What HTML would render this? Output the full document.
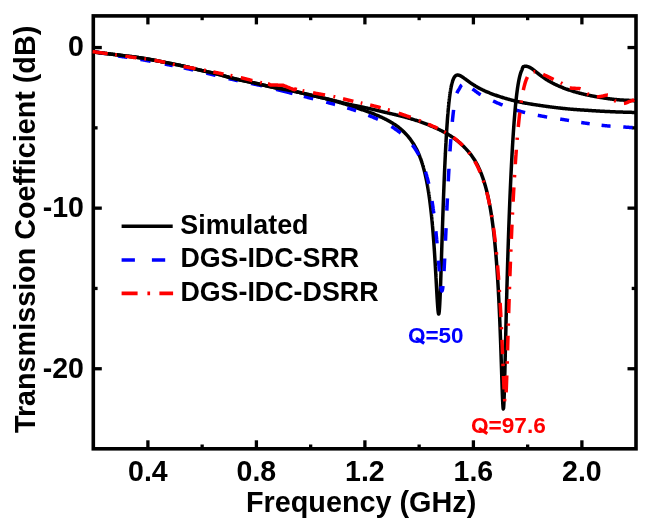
<!DOCTYPE html>
<html><head><meta charset="utf-8"><style>
html,body{margin:0;padding:0;background:#fff;}
svg{display:block;will-change:transform;}
text{font-family:"Liberation Sans",sans-serif;font-weight:bold;}
</style></head><body>
<svg width="653" height="528" viewBox="0 0 653 528">
<rect width="653" height="528" fill="#fff"/>
<g stroke="#000" stroke-width="3.3"><line x1="147.90" y1="448.8" x2="147.90" y2="440.3"/><line x1="147.90" y1="15.9" x2="147.90" y2="24.4"/><line x1="202.15" y1="448.8" x2="202.15" y2="444.5"/><line x1="202.15" y1="15.9" x2="202.15" y2="20.2"/><line x1="256.40" y1="448.8" x2="256.40" y2="440.3"/><line x1="256.40" y1="15.9" x2="256.40" y2="24.4"/><line x1="310.65" y1="448.8" x2="310.65" y2="444.5"/><line x1="310.65" y1="15.9" x2="310.65" y2="20.2"/><line x1="364.90" y1="448.8" x2="364.90" y2="440.3"/><line x1="364.90" y1="15.9" x2="364.90" y2="24.4"/><line x1="419.15" y1="448.8" x2="419.15" y2="444.5"/><line x1="419.15" y1="15.9" x2="419.15" y2="20.2"/><line x1="473.40" y1="448.8" x2="473.40" y2="440.3"/><line x1="473.40" y1="15.9" x2="473.40" y2="24.4"/><line x1="527.65" y1="448.8" x2="527.65" y2="444.5"/><line x1="527.65" y1="15.9" x2="527.65" y2="20.2"/><line x1="581.90" y1="448.8" x2="581.90" y2="440.3"/><line x1="581.90" y1="15.9" x2="581.90" y2="24.4"/><line x1="93.3" y1="368.75" x2="101.8" y2="368.75"/><line x1="636.0" y1="368.75" x2="627.5" y2="368.75"/><line x1="93.3" y1="288.45" x2="97.6" y2="288.45"/><line x1="636.0" y1="288.45" x2="631.7" y2="288.45"/><line x1="93.3" y1="208.15" x2="101.8" y2="208.15"/><line x1="636.0" y1="208.15" x2="627.5" y2="208.15"/><line x1="93.3" y1="127.85" x2="97.6" y2="127.85"/><line x1="636.0" y1="127.85" x2="631.7" y2="127.85"/><line x1="93.3" y1="47.55" x2="101.8" y2="47.55"/><line x1="636.0" y1="47.55" x2="627.5" y2="47.55"/></g>
<rect x="93.3" y="15.9" width="542.7" height="432.90000000000003" fill="none" stroke="#000" stroke-width="3.6"/>
<g fill="none" stroke-width="3.5" stroke-linejoin="round">
<path d="M92.60,51.86 L93.65,52.00 L94.33,52.08 L95.01,52.17 L95.68,52.25 L96.36,52.34 L97.04,52.42 L97.72,52.51 L98.40,52.59 L99.08,52.68 L99.75,52.76 L100.43,52.85 L101.11,52.93 L101.79,53.02 L102.47,53.11 L103.14,53.19 L103.82,53.28 L104.50,53.36 L105.18,53.45 L105.86,53.53 L106.53,53.61 L107.21,53.70 L107.89,53.78 L108.57,53.86 L109.25,53.95 L109.93,54.03 L110.60,54.11 L111.28,54.19 L111.96,54.28 L112.64,54.36 L113.32,54.44 L113.99,54.52 L114.67,54.60 L115.35,54.68 L116.03,54.77 L116.71,54.85 L117.38,54.94 L118.06,55.02 L118.74,55.10 L119.42,55.19 L120.10,55.28 L120.78,55.36 L121.45,55.45 L122.13,55.54 L122.81,55.62 L123.49,55.71 L124.17,55.79 L124.84,55.88 L125.52,55.96 L126.20,56.04 L126.88,56.12 L127.56,56.20 L128.23,56.28 L128.91,56.36 L129.59,56.44 L130.27,56.52 L130.95,56.60 L131.62,56.68 L132.30,56.76 L132.98,56.84 L133.66,56.93 L134.34,57.01 L135.02,57.10 L135.69,57.19 L136.37,57.28 L137.05,57.37 L137.73,57.46 L138.41,57.56 L139.08,57.66 L139.76,57.76 L140.44,57.86 L141.12,57.96 L141.80,58.07 L142.47,58.17 L143.15,58.28 L143.83,58.39 L144.51,58.50 L145.19,58.62 L145.87,58.73 L146.54,58.85 L147.22,58.96 L147.90,59.08 L148.58,59.20 L149.26,59.32 L149.93,59.44 L150.61,59.57 L151.29,59.69 L151.97,59.82 L152.65,59.94 L153.33,60.07 L154.00,60.20 L154.68,60.33 L155.36,60.46 L156.04,60.59 L156.72,60.73 L157.39,60.86 L158.07,60.99 L158.75,61.13 L159.43,61.27 L160.11,61.40 L160.78,61.54 L161.46,61.68 L162.14,61.81 L162.82,61.95 L163.50,62.09 L164.18,62.22 L164.85,62.36 L165.53,62.49 L166.21,62.63 L166.89,62.76 L167.57,62.90 L168.24,63.03 L168.92,63.16 L169.60,63.29 L170.28,63.42 L170.96,63.56 L171.63,63.69 L172.31,63.82 L172.99,63.95 L173.67,64.09 L174.35,64.22 L175.03,64.35 L175.70,64.49 L176.38,64.62 L177.06,64.76 L177.74,64.90 L178.42,65.03 L179.09,65.17 L179.77,65.31 L180.45,65.45 L181.13,65.60 L181.81,65.74 L182.48,65.88 L183.16,66.03 L183.84,66.18 L184.52,66.33 L185.20,66.48 L185.88,66.63 L186.55,66.79 L187.23,66.95 L187.91,67.11 L188.59,67.27 L189.27,67.44 L189.94,67.60 L190.62,67.77 L191.30,67.95 L191.98,68.12 L192.66,68.29 L193.33,68.47 L194.01,68.64 L194.69,68.81 L195.37,68.99 L196.05,69.16 L196.73,69.33 L197.40,69.49 L198.08,69.66 L198.76,69.82 L199.44,69.98 L200.12,70.14 L200.79,70.30 L201.47,70.45 L202.15,70.60 L202.83,70.76 L203.51,70.91 L204.18,71.06 L204.86,71.21 L205.54,71.36 L206.22,71.51 L206.90,71.66 L207.57,71.81 L208.25,71.95 L208.93,72.10 L209.61,72.25 L210.29,72.40 L210.97,72.56 L211.64,72.71 L212.32,72.86 L213.00,73.02 L213.68,73.17 L214.36,73.33 L215.03,73.49 L215.71,73.65 L216.39,73.82 L217.07,73.98 L217.75,74.15 L218.43,74.33 L219.10,74.50 L219.78,74.68 L220.46,74.86 L221.14,75.05 L221.82,75.24 L222.49,75.43 L223.17,75.62 L223.85,75.82 L224.53,76.01 L225.21,76.20 L225.88,76.40 L226.56,76.59 L227.24,76.78 L227.92,76.97 L228.60,77.16 L229.27,77.34 L229.95,77.53 L230.63,77.70 L231.31,77.88 L231.99,78.05 L232.67,78.22 L233.34,78.39 L234.02,78.56 L234.70,78.72 L235.38,78.88 L236.06,79.04 L236.73,79.20 L237.41,79.36 L238.09,79.51 L238.77,79.66 L239.45,79.82 L240.13,79.97 L240.80,80.12 L241.48,80.26 L242.16,80.41 L242.84,80.56 L243.52,80.70 L244.19,80.84 L244.87,80.98 L245.55,81.12 L246.23,81.26 L246.91,81.40 L247.58,81.54 L248.26,81.68 L248.94,81.82 L249.62,81.95 L250.30,82.09 L250.98,82.23 L251.65,82.37 L252.33,82.51 L253.01,82.66 L253.69,82.80 L254.37,82.95 L255.04,83.10 L255.72,83.25 L256.40,83.41 L257.08,83.56 L257.76,83.72 L258.43,83.88 L259.11,84.04 L259.79,84.20 L260.47,84.37 L261.15,84.53 L261.83,84.69 L262.50,84.86 L263.18,85.02 L263.86,85.18 L264.54,85.34 L265.22,85.50 L265.89,85.67 L266.57,85.82 L267.25,85.98 L267.93,86.14 L268.61,86.30 L269.28,86.45 L269.96,86.61 L270.64,86.76 L271.32,86.91 L272.00,87.06 L272.68,87.21 L273.35,87.35 L274.03,87.50 L274.71,87.64 L275.39,87.78 L276.07,87.91 L276.74,88.05 L277.42,88.18 L278.10,88.31 L278.78,88.43 L279.46,88.55 L280.13,88.67 L280.81,88.78 L281.49,88.90 L282.17,89.01 L282.85,89.12 L283.53,89.23 L284.20,89.34 L284.88,89.45 L285.56,89.57 L286.24,89.68 L286.92,89.80 L287.59,89.92 L288.27,90.05 L288.95,90.17 L289.63,90.30 L290.31,90.44 L290.98,90.58 L291.66,90.72 L292.34,90.86 L293.02,91.01 L293.70,91.16 L294.38,91.31 L295.05,91.46 L295.73,91.61 L296.41,91.77 L297.09,91.93 L297.77,92.09 L298.44,92.24 L299.12,92.40 L299.80,92.57 L300.48,92.73 L301.16,92.89 L301.83,93.05 L302.51,93.22 L303.19,93.38 L303.87,93.54 L304.55,93.71 L305.23,93.87 L305.90,94.03 L306.58,94.19 L307.26,94.36 L307.94,94.52 L308.62,94.68 L309.29,94.83 L309.97,94.99 L310.65,95.15 L311.33,95.30 L312.01,95.45 L312.68,95.60 L313.36,95.75 L314.04,95.90 L314.72,96.05 L315.40,96.20 L316.08,96.35 L316.75,96.50 L317.43,96.65 L318.11,96.80 L318.79,96.95 L319.47,97.11 L320.14,97.27 L320.82,97.42 L321.50,97.58 L322.18,97.75 L322.86,97.91 L323.53,98.08 L324.21,98.24 L324.89,98.41 L325.57,98.58 L326.25,98.76 L326.93,98.93 L327.60,99.11 L328.28,99.29 L328.96,99.46 L329.64,99.64 L330.32,99.83 L330.99,100.01 L331.67,100.20 L332.35,100.38 L333.03,100.57 L333.71,100.76 L334.38,100.95 L335.06,101.14 L335.74,101.33 L336.42,101.53 L337.10,101.72 L337.78,101.92 L338.45,102.12 L339.13,102.32 L339.81,102.52 L340.49,102.72 L341.17,102.92 L341.84,103.12 L342.52,103.33 L343.20,103.53 L343.88,103.74 L344.56,103.94 L345.23,104.15 L345.91,104.36 L346.59,104.57 L347.27,104.78 L347.95,104.99 L348.63,105.20 L349.30,105.41 L349.98,105.63 L350.66,105.84 L351.34,106.06 L352.02,106.28 L352.69,106.50 L353.37,106.72 L354.05,106.94 L354.73,107.17 L355.41,107.39 L356.08,107.62 L356.76,107.85 L357.44,108.08 L358.12,108.31 L358.80,108.54 L359.48,108.78 L360.15,109.01 L360.83,109.25 L361.51,109.49 L362.19,109.73 L362.87,109.96 L363.54,110.20 L364.22,110.45 L364.90,110.69 L365.58,110.93 L366.26,111.18 L366.93,111.42 L367.61,111.67 L368.29,111.92 L368.97,112.17 L369.65,112.43 L370.33,112.68 L371.00,112.94 L371.68,113.20 L372.36,113.46 L373.04,113.72 L373.72,113.99 L374.39,114.25 L375.07,114.53 L375.75,114.80 L376.43,115.08 L377.11,115.36 L377.78,115.65 L378.46,115.94 L379.14,116.23 L379.82,116.53 L380.50,116.83 L381.18,117.13 L381.85,117.44 L382.53,117.76 L383.21,118.08 L383.89,118.41 L384.57,118.74 L385.24,119.08 L385.92,119.42 L386.60,119.77 L387.28,120.12 L387.96,120.49 L388.63,120.85 L389.31,121.23 L389.99,121.62 L390.67,122.01 L391.35,122.41 L392.02,122.82 L392.70,123.23 L393.38,123.66 L394.06,124.10 L394.74,124.55 L395.42,125.01 L396.09,125.48 L396.77,125.96 L397.45,126.46 L398.13,126.97 L398.81,127.50 L399.48,128.03 L400.16,128.59 L400.84,129.16 L401.52,129.75 L402.20,130.35 L402.88,130.97 L403.55,131.62 L404.23,132.28 L404.91,132.96 L405.59,133.67 L406.27,134.39 L406.94,135.14 L407.62,135.92 L408.30,136.72 L408.98,137.55 L409.66,138.40 L410.33,139.29 L411.01,140.21 L411.69,141.16 L412.37,142.15 L413.05,143.18 L413.73,144.25 L414.40,145.36 L415.08,146.53 L415.76,147.74 L416.44,149.01 L417.12,150.37 L417.39,150.94 L417.52,151.21 L417.65,151.50 L417.78,151.78 L417.91,152.07 L418.04,152.36 L418.17,152.65 L418.30,152.95 L418.43,153.25 L418.57,153.55 L418.70,153.85 L418.83,154.16 L418.96,154.47 L419.09,154.79 L419.22,155.11 L419.35,155.43 L419.46,155.71 L419.58,155.99 L419.69,156.27 L419.80,156.56 L419.91,156.85 L420.03,157.14 L420.14,157.44 L420.25,157.74 L420.36,158.04 L420.48,158.34 L420.59,158.65 L420.70,158.96 L420.81,159.27 L420.93,159.59 L421.04,159.91 L421.15,160.23 L421.26,160.56 L421.37,160.88 L421.49,161.22 L421.60,161.55 L421.71,161.89 L421.81,162.18 L421.90,162.47 L421.99,162.76 L422.09,163.05 L422.18,163.35 L422.27,163.64 L422.37,163.95 L422.46,164.25 L422.55,164.56 L422.65,164.86 L422.74,165.18 L422.84,165.49 L422.93,165.81 L423.02,166.13 L423.12,166.45 L423.21,166.78 L423.30,167.11 L423.40,167.44 L423.49,167.78 L423.58,168.12 L423.68,168.46 L423.77,168.81 L423.87,169.15 L423.96,169.51 L424.05,169.86 L424.15,170.22 L424.24,170.58 L424.32,170.88 L424.39,171.17 L424.47,171.47 L424.54,171.77 L424.61,172.07 L424.69,172.37 L424.76,172.68 L424.84,172.99 L424.91,173.30 L424.99,173.62 L425.06,173.93 L425.14,174.25 L425.21,174.57 L425.29,174.90 L425.36,175.23 L425.44,175.56 L425.51,175.89 L425.59,176.23 L425.66,176.56 L425.74,176.90 L425.81,177.25 L425.89,177.60 L425.96,177.95 L426.04,178.30 L426.11,178.66 L426.19,179.01 L426.26,179.38 L426.34,179.74 L426.41,180.11 L426.49,180.48 L426.56,180.86 L426.64,181.24 L426.71,181.62 L426.79,182.00 L426.86,182.39 L426.94,182.78 L426.99,183.08 L427.05,183.38 L427.11,183.68 L427.16,183.98 L427.22,184.28 L427.27,184.59 L427.33,184.90 L427.39,185.21 L427.44,185.52 L427.50,185.84 L427.56,186.16 L427.61,186.47 L427.67,186.80 L427.72,187.12 L427.78,187.45 L427.84,187.77 L427.89,188.11 L427.95,188.44 L428.00,188.77 L428.06,189.11 L428.12,189.45 L428.17,189.79 L428.23,190.14 L428.29,190.49 L428.34,190.84 L428.40,191.19 L428.45,191.55 L428.51,191.90 L428.57,192.26 L428.62,192.63 L428.68,192.99 L428.74,193.36 L428.79,193.73 L428.85,194.11 L428.90,194.48 L428.96,194.86 L429.02,195.25 L429.07,195.63 L429.13,196.02 L429.18,196.41 L429.24,196.80 L429.30,197.20 L429.35,197.60 L429.41,198.00 L429.47,198.41 L429.52,198.82 L429.58,199.23 L429.63,199.65 L429.69,200.07 L429.75,200.49 L429.80,200.92 L429.86,201.34 L429.92,201.78 L429.97,202.21 L430.03,202.65 L430.08,203.09 L430.14,203.54 L430.18,203.84 L430.21,204.14 L430.25,204.44 L430.29,204.75 L430.33,205.05 L430.36,205.36 L430.40,205.67 L430.44,205.98 L430.48,206.29 L430.51,206.61 L430.55,206.92 L430.59,207.24 L430.63,207.56 L430.66,207.88 L430.70,208.20 L430.74,208.53 L430.78,208.85 L430.81,209.18 L430.85,209.51 L430.89,209.84 L430.93,210.17 L430.96,210.51 L431.00,210.85 L431.04,211.19 L431.08,211.53 L431.11,211.87 L431.15,212.21 L431.19,212.56 L431.23,212.91 L431.26,213.26 L431.30,213.61 L431.34,213.96 L431.38,214.32 L431.41,214.68 L431.45,215.04 L431.49,215.40 L431.53,215.77 L431.56,216.13 L431.60,216.50 L431.64,216.87 L431.68,217.24 L431.71,217.62 L431.75,218.00 L431.79,218.37 L431.83,218.76 L431.86,219.14 L431.90,219.52 L431.94,219.91 L431.98,220.30 L432.01,220.69 L432.05,221.09 L432.09,221.49 L432.13,221.88 L432.16,222.29 L432.20,222.69 L432.24,223.09 L432.27,223.50 L432.31,223.91 L432.35,224.33 L432.39,224.74 L432.42,225.16 L432.46,225.58 L432.50,226.00 L432.54,226.43 L432.57,226.85 L432.61,227.28 L432.65,227.72 L432.69,228.15 L432.72,228.59 L432.76,229.03 L432.80,229.47 L432.84,229.92 L432.87,230.37 L432.91,230.82 L432.95,231.27 L432.99,231.73 L433.02,232.18 L433.06,232.64 L433.10,233.11 L433.14,233.57 L433.17,234.04 L433.21,234.52 L433.25,234.99 L433.29,235.47 L433.32,235.95 L433.36,236.43 L433.39,236.81 L433.42,237.16 L433.45,237.65 L433.49,238.14 L433.53,238.64 L433.57,239.14 L433.60,239.64 L433.64,240.14 L433.68,240.65 L433.72,241.16 L433.75,241.67 L433.79,242.19 L433.83,242.71 L433.87,243.23 L433.90,243.76 L433.94,244.28 L433.98,244.82 L434.02,245.35 L434.05,245.89 L434.09,246.43 L434.13,246.97 L434.17,247.52 L434.20,248.06 L434.24,248.62 L434.28,249.17 L434.32,249.73 L434.35,250.29 L434.39,250.86 L434.43,251.42 L434.47,251.99 L434.50,252.57 L434.54,253.14 L434.58,253.72 L434.62,254.31 L434.65,254.89 L434.69,255.48 L434.73,256.07 L434.77,256.67 L434.80,257.26 L434.82,257.56 L434.84,257.86 L434.86,258.17 L434.88,258.47 L434.90,258.77 L434.92,259.08 L434.93,259.38 L434.95,259.68 L434.97,259.99 L434.99,260.30 L435.01,260.60 L435.03,260.91 L435.05,261.22 L435.07,261.53 L435.08,261.84 L435.10,262.15 L435.12,262.46 L435.14,262.78 L435.16,263.09 L435.18,263.40 L435.20,263.72 L435.22,264.03 L435.23,264.35 L435.25,264.66 L435.27,264.98 L435.29,265.30 L435.31,265.62 L435.33,265.94 L435.35,266.26 L435.37,266.58 L435.38,266.90 L435.40,267.22 L435.42,267.54 L435.44,267.87 L435.46,268.19 L435.48,268.51 L435.50,268.84 L435.52,269.16 L435.53,269.49 L435.55,269.82 L435.57,270.14 L435.59,270.47 L435.61,270.80 L435.63,271.13 L435.65,271.46 L435.66,271.79 L435.68,272.12 L435.70,272.45 L435.72,272.78 L435.74,273.11 L435.76,273.44 L435.78,273.78 L435.80,274.11 L435.81,274.44 L435.83,274.78 L435.85,275.11 L435.87,275.45 L435.89,275.78 L435.91,276.12 L435.93,276.46 L435.95,276.79 L435.96,277.13 L435.98,277.47 L436.00,277.80 L436.02,278.14 L436.04,278.48 L436.06,278.82 L436.08,279.16 L436.10,279.50 L436.11,279.84 L436.13,280.18 L436.15,280.52 L436.17,280.86 L436.19,281.20 L436.21,281.54 L436.23,281.88 L436.25,282.22 L436.26,282.56 L436.28,282.90 L436.30,283.24 L436.32,283.58 L436.34,283.92 L436.36,284.26 L436.38,284.60 L436.40,284.94 L436.41,285.28 L436.43,285.62 L436.45,285.96 L436.47,286.30 L436.49,286.64 L436.51,286.98 L436.53,287.32 L436.55,287.66 L436.56,288.00 L436.58,288.34 L436.60,288.68 L436.62,289.02 L436.64,289.36 L436.66,289.69 L436.68,290.03 L436.69,290.37 L436.71,290.70 L436.73,291.04 L436.75,291.37 L436.77,291.71 L436.79,292.04 L436.81,292.37 L436.83,292.70 L436.84,293.04 L436.86,293.37 L436.88,293.70 L436.90,294.02 L436.92,294.35 L436.94,294.68 L436.96,295.01 L436.98,295.33 L436.99,295.66 L437.01,295.98 L437.03,296.30 L437.05,296.62 L437.07,296.94 L437.09,297.26 L437.11,297.58 L437.13,297.89 L437.14,298.21 L437.16,298.52 L437.18,298.83 L437.20,299.14 L437.22,299.45 L437.24,299.75 L437.26,300.06 L437.28,300.36 L437.29,300.66 L437.31,300.96 L437.35,301.56 L437.39,302.14 L437.43,302.72 L437.46,303.24 L437.48,303.57 L437.52,304.12 L437.56,304.67 L437.59,305.20 L437.63,305.73 L437.67,306.24 L437.71,306.74 L437.74,307.23 L437.78,307.70 L437.82,308.17 L437.86,308.62 L437.89,309.05 L437.93,309.47 L437.97,309.87 L438.01,310.26 L438.04,310.63 L438.08,310.99 L438.12,311.33 L438.16,311.65 L438.19,311.95 L438.25,312.37 L438.31,312.74 L438.36,313.07 L438.44,313.43 L438.53,313.76 L438.70,314.02 L438.87,313.74 L438.96,313.38 L439.04,312.98 L439.09,312.61 L439.15,312.18 L439.19,311.86 L439.22,311.52 L439.26,311.15 L439.30,310.76 L439.34,310.34 L439.37,309.90 L439.41,309.43 L439.45,308.94 L439.49,308.42 L439.52,307.88 L439.56,307.32 L439.60,306.73 L439.62,306.43 L439.64,306.12 L439.65,305.80 L439.67,305.48 L439.69,305.16 L439.71,304.83 L439.73,304.49 L439.75,304.15 L439.77,303.80 L439.79,303.45 L439.80,303.09 L439.82,302.73 L439.84,302.37 L439.86,301.99 L439.88,301.61 L439.90,301.23 L439.92,300.85 L439.93,300.45 L439.95,300.06 L439.97,299.65 L439.99,299.25 L440.01,298.84 L440.03,298.42 L440.05,298.00 L440.07,297.58 L440.08,297.15 L440.10,296.72 L440.12,296.28 L440.14,295.84 L440.16,295.39 L440.18,294.94 L440.20,294.49 L440.22,294.03 L440.23,293.57 L440.25,293.11 L440.27,292.64 L440.29,292.17 L440.31,291.70 L440.33,291.22 L440.35,290.73 L440.37,290.25 L440.38,289.76 L440.40,289.27 L440.42,288.77 L440.44,288.28 L440.46,287.78 L440.48,287.27 L440.50,286.76 L440.52,286.25 L440.53,285.74 L440.55,285.23 L440.57,284.71 L440.59,284.19 L440.61,283.67 L440.63,283.14 L440.65,282.61 L440.67,282.08 L440.68,281.55 L440.70,281.02 L440.72,280.48 L440.74,279.94 L440.76,279.40 L440.78,278.86 L440.80,278.31 L440.82,277.77 L440.83,277.22 L440.85,276.75 L440.87,276.12 L440.89,275.57 L440.91,275.01 L440.93,274.45 L440.95,273.90 L440.97,273.34 L440.98,272.78 L441.00,272.21 L441.02,271.65 L441.04,271.09 L441.06,270.52 L441.08,269.95 L441.10,269.39 L441.11,268.82 L441.13,268.25 L441.15,267.67 L441.17,267.10 L441.19,266.53 L441.21,265.96 L441.23,265.38 L441.25,264.81 L441.26,264.23 L441.28,263.65 L441.30,263.08 L441.32,262.50 L441.34,261.92 L441.36,261.34 L441.38,260.76 L441.40,260.18 L441.41,259.60 L441.43,259.02 L441.45,258.44 L441.47,257.86 L441.49,257.28 L441.51,256.70 L441.53,256.11 L441.55,255.53 L441.56,254.95 L441.58,254.37 L441.60,253.78 L441.62,253.20 L441.64,252.62 L441.66,252.04 L441.68,251.45 L441.70,250.87 L441.71,250.29 L441.73,249.71 L441.75,249.12 L441.77,248.54 L441.79,247.96 L441.81,247.38 L441.83,246.80 L441.85,246.22 L441.86,245.64 L441.88,245.06 L441.90,244.48 L441.92,243.90 L441.94,243.32 L441.96,242.74 L441.98,242.16 L442.00,241.58 L442.01,241.00 L442.03,240.43 L442.05,239.85 L442.07,239.27 L442.09,238.70 L442.11,238.12 L442.13,237.55 L442.14,236.98 L442.16,236.40 L442.18,235.83 L442.20,235.26 L442.22,234.69 L442.24,234.12 L442.26,233.55 L442.28,232.98 L442.29,232.41 L442.31,231.84 L442.33,231.27 L442.35,230.71 L442.37,230.14 L442.39,229.58 L442.41,229.01 L442.43,228.45 L442.44,227.89 L442.46,227.33 L442.48,226.77 L442.50,226.21 L442.52,225.65 L442.54,225.09 L442.56,224.54 L442.58,223.98 L442.59,223.42 L442.61,222.87 L442.63,222.32 L442.65,221.76 L442.67,221.21 L442.69,220.66 L442.71,220.11 L442.73,219.57 L442.74,219.02 L442.76,218.47 L442.78,217.93 L442.80,217.38 L442.82,216.84 L442.84,216.30 L442.86,215.75 L442.88,215.21 L442.89,214.68 L442.91,214.14 L442.93,213.60 L442.95,213.06 L442.97,212.53 L442.99,212.00 L443.01,211.46 L443.03,210.93 L443.04,210.40 L443.06,209.87 L443.08,209.34 L443.10,208.82 L443.12,208.29 L443.14,207.77 L443.16,207.24 L443.18,206.72 L443.19,206.20 L443.21,205.68 L443.23,205.16 L443.25,204.64 L443.27,204.12 L443.29,203.61 L443.31,203.09 L443.32,202.58 L443.34,202.07 L443.36,201.56 L443.38,201.05 L443.40,200.54 L443.42,200.03 L443.44,199.53 L443.46,199.02 L443.47,198.52 L443.49,198.02 L443.51,197.51 L443.53,197.01 L443.55,196.52 L443.56,196.17 L443.59,195.52 L443.61,195.03 L443.62,194.53 L443.64,194.04 L443.66,193.55 L443.68,193.06 L443.70,192.57 L443.72,192.08 L443.74,191.59 L443.76,191.11 L443.77,190.63 L443.79,190.14 L443.81,189.66 L443.83,189.18 L443.85,188.70 L443.87,188.22 L443.89,187.75 L443.91,187.27 L443.92,186.80 L443.94,186.32 L443.96,185.85 L443.98,185.38 L444.00,184.91 L444.02,184.45 L444.04,183.98 L444.06,183.51 L444.07,183.05 L444.09,182.59 L444.11,182.12 L444.13,181.66 L444.15,181.21 L444.17,180.75 L444.19,180.29 L444.21,179.84 L444.22,179.38 L444.24,178.98 L444.26,178.48 L444.28,178.03 L444.30,177.58 L444.32,177.13 L444.34,176.68 L444.35,176.24 L444.37,175.79 L444.39,175.35 L444.41,174.91 L444.43,174.47 L444.45,174.03 L444.47,173.59 L444.49,173.16 L444.50,172.72 L444.52,172.29 L444.54,171.86 L444.56,171.43 L444.58,171.00 L444.60,170.57 L444.62,170.14 L444.64,169.71 L444.65,169.29 L444.67,168.86 L444.69,168.44 L444.71,168.02 L444.73,167.60 L444.75,167.18 L444.77,166.76 L444.79,166.35 L444.80,165.93 L444.82,165.52 L444.84,165.11 L444.86,164.70 L444.88,164.29 L444.90,163.88 L444.92,163.47 L444.94,163.06 L444.95,162.66 L444.97,162.26 L444.99,161.85 L445.01,161.45 L445.03,161.05 L445.05,160.65 L445.07,160.26 L445.09,159.86 L445.10,159.47 L445.12,159.07 L445.14,158.68 L445.16,158.29 L445.18,157.90 L445.20,157.51 L445.22,157.12 L445.24,156.74 L445.25,156.35 L445.27,155.97 L445.29,155.58 L445.31,155.20 L445.33,154.82 L445.35,154.44 L445.37,154.07 L445.39,153.69 L445.40,153.32 L445.42,152.94 L445.44,152.57 L445.46,152.20 L445.48,151.83 L445.50,151.46 L445.52,151.09 L445.53,150.72 L445.55,150.36 L445.57,149.99 L445.59,149.63 L445.61,149.27 L445.63,148.91 L445.65,148.55 L445.67,148.19 L445.68,147.83 L445.70,147.48 L445.72,147.12 L445.74,146.77 L445.76,146.42 L445.78,146.07 L445.80,145.72 L445.82,145.37 L445.83,145.02 L445.85,144.68 L445.87,144.33 L445.89,143.99 L445.91,143.65 L445.93,143.30 L445.95,142.96 L445.97,142.63 L445.98,142.29 L446.00,141.95 L446.02,141.62 L446.04,141.28 L446.06,140.95 L446.08,140.62 L446.10,140.29 L446.12,139.96 L446.13,139.63 L446.15,139.30 L446.17,138.97 L446.19,138.65 L446.21,138.33 L446.23,138.00 L446.25,137.68 L446.27,137.36 L446.28,137.04 L446.30,136.72 L446.32,136.41 L446.34,136.09 L446.36,135.78 L446.38,135.46 L446.40,135.15 L446.42,134.84 L446.43,134.53 L446.45,134.22 L446.47,133.92 L446.49,133.61 L446.51,133.30 L446.53,133.00 L446.55,132.70 L446.56,132.39 L446.58,132.09 L446.60,131.79 L446.64,131.20 L446.68,130.61 L446.71,130.02 L446.75,129.44 L446.79,128.86 L446.83,128.28 L446.86,127.72 L446.90,127.15 L446.94,126.59 L446.98,126.03 L447.01,125.48 L447.05,124.93 L447.09,124.39 L447.13,123.85 L447.16,123.32 L447.20,122.79 L447.24,122.26 L447.28,121.74 L447.31,121.22 L447.35,120.71 L447.39,120.20 L447.43,119.69 L447.46,119.19 L447.50,118.69 L447.54,118.20 L447.58,117.71 L447.61,117.23 L447.65,116.75 L447.69,116.27 L447.73,115.80 L447.76,115.33 L447.80,114.86 L447.84,114.40 L447.88,113.95 L447.91,113.49 L447.95,113.05 L447.99,112.60 L448.03,112.16 L448.06,111.72 L448.10,111.29 L448.14,110.86 L448.18,110.43 L448.21,110.01 L448.25,109.59 L448.29,109.18 L448.33,108.76 L448.36,108.36 L448.40,107.95 L448.44,107.55 L448.48,107.16 L448.51,106.76 L448.55,106.37 L448.59,105.99 L448.63,105.61 L448.66,105.23 L448.70,104.85 L448.74,104.48 L448.77,104.11 L448.81,103.75 L448.85,103.39 L448.89,103.03 L448.92,102.67 L448.96,102.32 L449.00,101.97 L449.04,101.63 L449.07,101.29 L449.11,100.95 L449.15,100.62 L449.19,100.28 L449.22,99.96 L449.26,99.63 L449.30,99.31 L449.34,98.99 L449.37,98.67 L449.41,98.36 L449.45,98.05 L449.49,97.75 L449.52,97.44 L449.56,97.14 L449.62,96.70 L449.67,96.32 L449.71,95.97 L449.77,95.55 L449.82,95.13 L449.88,94.71 L449.94,94.30 L449.99,93.90 L450.05,93.51 L450.10,93.12 L450.16,92.74 L450.22,92.36 L450.27,91.99 L450.33,91.63 L450.39,91.27 L450.44,90.92 L450.50,90.57 L450.55,90.23 L450.61,89.89 L450.67,89.56 L450.72,89.24 L450.78,88.92 L450.84,88.60 L450.89,88.30 L450.95,87.99 L451.00,87.69 L451.08,87.30 L451.15,86.92 L451.23,86.55 L451.30,86.19 L451.38,85.83 L451.45,85.49 L451.53,85.15 L451.60,84.82 L451.68,84.50 L451.75,84.18 L451.83,83.88 L451.90,83.58 L451.98,83.29 L452.07,82.93 L452.16,82.59 L452.26,82.26 L452.35,81.93 L452.45,81.62 L452.54,81.32 L452.63,81.03 L452.75,80.69 L452.86,80.37 L452.97,80.06 L453.08,79.76 L453.19,79.48 L453.33,79.16 L453.46,78.86 L453.59,78.57 L453.72,78.30 L453.87,78.00 L454.02,77.72 L454.17,77.46 L454.34,77.19 L454.51,76.93 L454.69,76.68 L454.88,76.44 L455.09,76.21 L455.31,75.99 L455.55,75.78 L455.80,75.60 L456.06,75.44 L456.34,75.30 L456.62,75.19 L456.92,75.11 L457.22,75.06 L457.52,75.03 L457.84,75.04 L458.14,75.06 L458.44,75.11 L458.74,75.18 L459.04,75.26 L459.34,75.36 L459.62,75.47 L459.90,75.58 L460.18,75.71 L460.46,75.85 L460.74,76.00 L461.02,76.15 L461.29,76.30 L461.55,76.46 L461.81,76.62 L462.07,76.78 L462.33,76.95 L462.60,77.12 L462.86,77.30 L463.12,77.48 L463.38,77.66 L463.65,77.85 L463.91,78.03 L464.15,78.21 L464.39,78.38 L464.64,78.56 L464.88,78.74 L465.13,78.91 L465.37,79.09 L465.61,79.27 L465.86,79.45 L466.10,79.63 L466.34,79.81 L466.59,79.99 L466.83,80.17 L467.07,80.35 L467.32,80.53 L467.56,80.71 L467.80,80.89 L468.05,81.07 L468.29,81.24 L468.53,81.42 L468.78,81.60 L469.04,81.78 L469.30,81.97 L469.56,82.16 L469.83,82.34 L470.09,82.53 L470.35,82.71 L470.61,82.90 L470.87,83.08 L471.14,83.26 L471.40,83.44 L471.66,83.61 L471.92,83.79 L472.19,83.97 L472.45,84.14 L472.71,84.31 L472.97,84.48 L473.23,84.65 L473.50,84.82 L474.08,85.19 L474.76,85.61 L475.43,86.03 L476.11,86.43 L476.79,86.83 L477.47,87.22 L478.15,87.60 L478.82,87.97 L479.50,88.33 L480.18,88.69 L480.86,89.04 L481.54,89.38 L482.22,89.71 L482.89,90.04 L483.57,90.36 L484.25,90.68 L484.93,90.98 L485.61,91.29 L486.28,91.59 L486.96,91.88 L487.64,92.17 L488.32,92.45 L489.00,92.73 L489.67,93.00 L490.35,93.27 L491.03,93.53 L491.71,93.79 L492.39,94.05 L493.07,94.30 L493.74,94.55 L494.42,94.79 L495.10,95.04 L495.78,95.27 L496.46,95.51 L497.13,95.74 L497.81,95.97 L498.49,96.20 L499.17,96.42 L499.85,96.64 L500.52,96.86 L501.20,97.08 L501.88,97.29 L502.56,97.50 L503.24,97.71 L503.92,97.92 L504.59,98.12 L505.27,98.32 L505.95,98.52 L506.63,98.72 L507.31,98.92 L507.98,99.11 L508.66,99.30 L509.34,99.49 L510.02,99.67 L510.70,99.86 L511.38,100.04 L512.05,100.21 L512.73,100.39 L513.41,100.56 L514.09,100.73 L514.77,100.89 L515.44,101.06 L516.12,101.22 L516.80,101.37 L517.48,101.53 L518.16,101.68 L518.83,101.83 L519.51,101.97 L520.19,102.11 L520.87,102.25 L521.55,102.39 L522.23,102.53 L522.90,102.66 L523.58,102.79 L524.26,102.91 L524.94,103.04 L525.62,103.16 L526.29,103.28 L526.97,103.40 L527.65,103.52 L528.33,103.63 L529.01,103.75 L529.68,103.86 L530.36,103.97 L531.04,104.08 L531.72,104.19 L532.40,104.30 L533.08,104.41 L533.75,104.51 L534.43,104.62 L535.11,104.73 L535.79,104.83 L536.47,104.93 L537.14,105.04 L537.82,105.14 L538.50,105.24 L539.18,105.34 L539.86,105.44 L540.53,105.54 L541.21,105.64 L541.89,105.73 L542.57,105.83 L543.25,105.93 L543.93,106.02 L544.60,106.12 L545.28,106.21 L545.96,106.31 L546.64,106.40 L547.32,106.49 L547.99,106.59 L548.67,106.68 L549.35,106.77 L550.03,106.86 L550.71,106.95 L551.38,107.03 L552.06,107.12 L552.74,107.21 L553.42,107.29 L554.10,107.38 L554.77,107.46 L555.45,107.54 L556.13,107.63 L556.81,107.71 L557.49,107.79 L558.17,107.87 L558.84,107.94 L559.52,108.02 L560.20,108.10 L560.88,108.17 L561.56,108.25 L562.23,108.32 L562.91,108.39 L563.59,108.46 L564.27,108.53 L564.95,108.60 L565.62,108.67 L566.30,108.74 L566.98,108.81 L567.66,108.87 L568.34,108.93 L569.02,109.00 L569.69,109.06 L570.37,109.12 L571.05,109.18 L571.73,109.24 L572.41,109.30 L573.08,109.35 L573.76,109.41 L574.44,109.46 L575.12,109.51 L575.80,109.56 L576.48,109.61 L577.15,109.66 L577.83,109.70 L578.51,109.75 L579.19,109.79 L579.87,109.84 L580.54,109.88 L581.22,109.93 L581.90,109.97 L582.58,110.01 L583.26,110.06 L583.93,110.10 L584.61,110.14 L585.29,110.19 L585.97,110.23 L586.65,110.28 L587.33,110.32 L588.00,110.37 L588.68,110.41 L589.36,110.46 L590.04,110.50 L590.72,110.55 L591.39,110.59 L592.07,110.64 L592.75,110.68 L593.43,110.72 L594.11,110.77 L594.78,110.81 L595.46,110.85 L596.14,110.89 L596.82,110.93 L597.50,110.97 L598.18,111.01 L598.85,111.05 L599.53,111.09 L600.21,111.13 L600.89,111.17 L601.57,111.20 L602.24,111.24 L602.92,111.28 L603.60,111.31 L604.28,111.35 L604.96,111.38 L605.63,111.42 L606.31,111.45 L606.99,111.49 L607.67,111.52 L608.35,111.55 L609.02,111.59 L609.70,111.62 L610.38,111.65 L611.06,111.68 L611.74,111.71 L612.42,111.74 L613.09,111.77 L613.77,111.80 L614.45,111.83 L615.13,111.86 L615.81,111.88 L616.48,111.91 L617.16,111.93 L617.84,111.96 L618.52,111.98 L619.20,112.01 L619.88,112.03 L620.55,112.05 L621.23,112.07 L621.91,112.10 L622.59,112.12 L623.27,112.14 L623.94,112.16 L624.62,112.18 L625.30,112.20 L625.98,112.22 L626.66,112.24 L627.33,112.26 L628.01,112.27 L628.69,112.29 L629.37,112.31 L630.05,112.33 L630.73,112.35 L631.40,112.37 L632.08,112.38 L632.76,112.40 L633.44,112.42 L634.12,112.44 L634.79,112.46 L635.47,112.47 L636.15,112.49" stroke="#000"/>
<path d="M95.85,51.90 L96.36,51.99 L96.87,52.08 L97.38,52.18 L97.89,52.27 L98.40,52.37 L98.91,52.47 L99.41,52.57 L99.92,52.67 L100.43,52.77 L100.94,52.87 L101.45,52.97 L101.96,53.07 L102.47,53.17 L102.97,53.27 L103.48,53.37 L103.99,53.47 L104.50,53.57 L105.01,53.67 M118.06,55.93 L118.57,56.01 L119.08,56.09 L119.59,56.17 L120.10,56.25 L120.61,56.33 L121.11,56.41 L121.62,56.49 L122.13,56.57 L122.64,56.65 L123.15,56.73 L123.66,56.81 L124.17,56.88 L124.67,56.96 L125.18,57.04 L125.69,57.12 L126.20,57.20 L126.71,57.27 L127.22,57.35 L127.39,57.38 M140.44,59.42 L140.95,59.51 L141.46,59.60 L141.97,59.69 L142.47,59.78 L142.98,59.87 L143.49,59.96 L144.00,60.05 L144.51,60.14 L145.02,60.23 L145.53,60.32 L146.04,60.41 L146.54,60.51 L147.05,60.60 L147.56,60.69 L148.07,60.79 L148.58,60.88 L149.09,60.98 L149.60,61.07 L150.10,61.17 L150.61,61.26 M164.85,64.06 L165.36,64.16 L165.87,64.26 L166.38,64.36 L166.89,64.46 L167.40,64.56 L167.90,64.66 L168.41,64.76 L168.92,64.86 L169.43,64.96 L169.94,65.06 L170.45,65.17 L170.96,65.27 L171.46,65.37 L171.97,65.47 L172.48,65.57 L172.82,65.64 M183.84,67.90 L184.35,68.01 L184.86,68.12 L185.37,68.23 L185.88,68.34 L186.38,68.45 L186.89,68.57 L187.40,68.68 L187.91,68.79 L188.42,68.90 L188.93,69.02 L189.44,69.13 L189.94,69.25 L190.45,69.36 L190.96,69.48 L191.47,69.59 L191.98,69.71 L192.49,69.83 L193.00,69.95 L193.16,69.99 M206.39,73.14 L206.90,73.26 L207.41,73.38 L207.91,73.51 L208.42,73.63 L208.93,73.76 L209.44,73.88 L209.95,74.01 L210.46,74.14 L210.97,74.26 L211.47,74.39 L211.98,74.52 L212.49,74.65 L213.00,74.78 L213.51,74.91 L214.02,75.04 L214.53,75.16 L215.03,75.29 L215.54,75.42 M228.60,78.59 L229.11,78.71 L229.61,78.82 L230.12,78.94 L230.63,79.06 L231.14,79.17 L231.65,79.29 L232.16,79.41 L232.67,79.52 L233.17,79.64 L233.68,79.75 L234.19,79.87 L234.70,79.98 L235.21,80.09 L235.72,80.21 L236.23,80.32 L236.73,80.44 L237.24,80.55 L237.75,80.66 L237.92,80.70 M250.98,83.44 L251.48,83.55 L251.99,83.65 L252.50,83.75 L253.01,83.85 L253.52,83.96 L254.03,84.06 L254.54,84.16 L255.04,84.27 L255.55,84.38 L256.06,84.48 L256.57,84.59 L257.08,84.70 L257.59,84.82 L258.10,84.93 L258.60,85.04 L259.11,85.16 L259.62,85.28 L260.13,85.40 L260.64,85.52 L261.15,85.64 L261.66,85.76 L261.99,85.84 M276.07,89.39 L276.57,89.52 L277.08,89.64 L277.59,89.77 L278.10,89.90 L278.61,90.02 L279.12,90.15 L279.63,90.28 L280.13,90.40 L280.64,90.53 L281.15,90.66 L281.66,90.78 L282.17,90.91 L282.68,91.03 L283.19,91.16 L283.69,91.29 L284.20,91.41 L284.71,91.54 L285.22,91.66 L285.73,91.79 L286.24,91.92 L286.75,92.04 L287.25,92.17 L287.76,92.29 L288.27,92.42 L288.78,92.55 L289.29,92.67 L289.80,92.80 L290.31,92.93 L290.81,93.05 L291.32,93.18 L291.83,93.31 L292.34,93.44 L292.51,93.48 M303.87,96.38 L304.38,96.52 L304.89,96.65 L305.39,96.78 L305.90,96.91 L306.41,97.04 L306.92,97.18 L307.43,97.31 L307.94,97.44 L308.45,97.57 L308.95,97.70 L309.46,97.83 L309.97,97.97 L310.48,98.10 L310.99,98.23 L311.50,98.36 L312.01,98.49 L312.51,98.62 L313.02,98.75 L313.19,98.79 M326.25,102.12 L326.76,102.26 L327.26,102.39 L327.77,102.53 L328.28,102.66 L328.79,102.80 L329.30,102.93 L329.81,103.07 L330.32,103.21 L330.82,103.35 L331.33,103.48 L331.84,103.62 L332.35,103.76 L332.86,103.90 L333.37,104.04 L333.88,104.18 L334.38,104.32 L334.89,104.46 L335.06,104.50 M347.27,107.93 L347.78,108.08 L348.29,108.24 L348.79,108.39 L349.30,108.54 L349.81,108.70 L350.32,108.86 L350.83,109.02 L351.34,109.18 L351.85,109.34 L352.35,109.50 L352.86,109.67 L353.37,109.83 L353.88,110.00 L354.39,110.17 L354.90,110.34 L355.41,110.51 L355.91,110.69 L356.08,110.74 M368.29,115.30 L368.80,115.50 L369.31,115.71 L369.82,115.91 L370.33,116.12 L370.83,116.33 L371.34,116.54 L371.85,116.75 L372.36,116.96 L372.87,117.17 L373.38,117.39 L373.89,117.61 L374.39,117.82 L374.90,118.04 L375.41,118.27 L375.92,118.49 L376.43,118.72 L376.94,118.94 L377.45,119.17 L377.95,119.41 M391.35,126.49 L391.86,126.81 L392.36,127.13 L392.70,127.34 L393.11,127.60 L393.52,127.87 L393.92,128.13 L394.33,128.40 L394.74,128.67 L395.14,128.95 L395.55,129.23 L395.96,129.51 L396.37,129.80 L396.77,130.09 L397.18,130.38 L397.59,130.68 L397.99,130.98 L398.40,131.28 L398.81,131.59 L399.21,131.90 L399.62,132.22 L400.03,132.54 L400.43,132.87 L400.71,133.09 M412.37,145.01 L412.71,145.46 L413.05,145.91 L413.39,146.37 L413.73,146.83 L414.06,147.31 L414.40,147.79 L414.63,148.12 L414.86,148.45 L415.08,148.78 L415.31,149.12 L415.53,149.47 L415.76,149.81 L415.99,150.17 L416.21,150.53 L416.44,150.89 L416.66,151.26 L416.89,151.63 L417.12,152.01 L417.34,152.39 L417.57,152.78 L417.79,153.17 L418.08,153.69 L418.37,154.22 L418.57,154.57 L418.76,154.94 L418.86,155.12 M425.51,171.71 L425.68,172.26 L425.85,172.82 L426.02,173.39 L426.13,173.78 L426.24,174.17 L426.36,174.56 L426.47,174.96 L426.58,175.36 L426.69,175.76 L426.81,176.17 L426.92,176.58 L427.03,177.00 L427.15,177.42 L427.26,177.85 L427.37,178.28 L427.51,178.79 L427.62,179.23 L427.73,179.68 L427.85,180.13 L427.96,180.59 L428.07,181.05 L428.19,181.52 L428.30,181.99 L428.41,182.47 L428.53,182.95 L428.64,183.44 L428.71,183.76 M432.00,200.89 L432.07,201.36 L432.15,201.83 L432.23,202.31 L432.30,202.79 L432.38,203.28 L432.45,203.77 L432.53,204.27 L432.60,204.77 L432.68,205.27 L432.75,205.78 L432.83,206.30 L432.91,206.81 L432.98,207.34 L433.06,207.86 L433.11,208.26 L433.17,208.66 L433.23,209.07 L433.28,209.47 L433.34,209.88 L433.40,210.29 L433.45,210.71 L433.51,211.13 L433.57,211.55 L433.62,211.97 L433.68,212.40 L433.74,212.82 L433.79,213.26 L433.83,213.55 M435.87,231.25 L435.93,231.80 L435.98,232.36 L436.04,232.92 L436.10,233.49 L436.15,234.06 L436.21,234.63 L436.27,235.20 L436.32,235.78 L436.38,236.37 L436.44,236.95 L436.49,237.54 L436.55,238.13 L436.61,238.73 L436.64,239.13 L436.68,239.53 L436.72,239.93 L436.76,240.34 L436.79,240.74 L436.83,241.15 L436.87,241.56 L436.91,241.97 L436.94,242.38 L436.98,242.80 L437.02,243.21 L437.04,243.42 M438.51,260.62 L438.55,261.07 L438.59,261.53 L438.62,261.99 L438.66,262.45 L438.70,262.91 L438.74,263.37 L438.78,263.83 L438.81,264.29 L438.85,264.75 L438.89,265.21 L438.93,265.67 L438.96,266.13 L439.00,266.59 L439.04,267.05 L439.08,267.51 L439.12,267.97 L439.15,268.42 L439.19,268.88 L439.23,269.34 L439.27,269.79 L439.30,270.24 L439.34,270.70 L439.38,271.15 L439.40,271.37 M440.83,286.26 L440.89,286.70 L440.95,287.12 L441.00,287.52 L441.10,288.15 L441.17,288.61 L441.25,289.04 L441.36,289.61 L441.48,290.08 L441.65,290.62 L441.78,291.00 L442.19,290.71 L442.36,290.19 L442.48,289.69 L442.55,289.29 L442.63,288.84 L442.70,288.33 L442.76,287.91 L442.82,287.47 L442.87,286.99 L442.93,286.48 L442.99,285.95 M444.04,271.03 L444.07,270.52 L444.10,270.01 L444.13,269.49 L444.16,268.97 L444.18,268.44 L444.21,267.91 L444.24,267.38 L444.27,266.84 L444.30,266.30 L444.33,265.75 L444.35,265.20 L444.38,264.64 L444.41,264.09 L444.44,263.52 L444.47,262.96 L444.50,262.39 L444.52,261.82 L444.55,261.24 L444.58,260.67 L444.61,260.09 L444.64,259.50 L444.67,258.92 L444.68,258.52 M445.50,240.79 L445.51,240.37 L445.53,239.94 L445.55,239.51 L445.57,239.09 L445.59,238.66 L445.61,238.24 L445.63,237.81 L445.65,237.38 L445.67,236.95 L445.68,236.53 L445.70,236.10 L445.72,235.67 L445.74,235.24 L445.76,234.82 L445.78,234.39 L445.80,233.96 L445.82,233.53 L445.84,233.10 L445.85,232.68 L445.87,232.25 L445.89,231.82 L445.91,231.39 L445.93,230.96 L445.95,230.54 L445.97,230.11 L445.99,229.68 L446.01,229.25 L446.02,228.82 L446.04,228.40 L446.05,228.18 M446.84,210.65 L446.85,210.24 L446.87,209.82 L446.89,209.41 L446.91,209.00 L446.93,208.58 L446.95,208.17 L446.97,207.76 L446.99,207.35 L447.01,206.94 L447.02,206.53 L447.04,206.12 L447.06,205.71 L447.08,205.30 L447.10,204.90 L447.12,204.49 L447.14,204.08 L447.16,203.68 L447.18,203.27 L447.19,202.87 L447.21,202.47 L447.23,202.06 L447.25,201.66 L447.27,201.26 L447.29,200.86 L447.31,200.46 L447.33,200.06 L447.36,199.46 L447.38,198.86 L447.40,198.46 M448.25,181.31 L448.28,180.77 L448.31,180.23 L448.34,179.68 L448.37,179.14 L448.39,178.61 L448.42,178.07 L448.45,177.54 L448.48,177.00 L448.51,176.47 L448.53,175.94 L448.56,175.42 L448.59,174.89 L448.62,174.37 L448.65,173.85 L448.68,173.33 L448.70,172.81 L448.73,172.29 L448.76,171.78 L448.79,171.27 L448.82,170.75 L448.85,170.25 L448.87,169.74 L448.90,169.23 L448.93,168.73 M449.99,151.31 L450.02,150.88 L450.05,150.46 L450.07,150.03 L450.10,149.60 L450.13,149.18 L450.16,148.76 L450.19,148.34 L450.21,147.93 L450.24,147.51 L450.27,147.10 L450.30,146.69 L450.33,146.28 L450.37,145.74 L450.39,145.33 L450.42,144.93 L450.45,144.53 L450.48,144.13 L450.52,143.60 L450.55,143.07 L450.59,142.55 L450.63,142.03 L450.67,141.51 L450.71,141.00 L450.74,140.49 L450.78,139.98 L450.82,139.48 L450.85,139.11 M452.31,121.93 L452.35,121.53 L452.40,120.93 L452.46,120.34 L452.52,119.76 L452.57,119.19 L452.63,118.62 L452.69,118.06 L452.74,117.51 L452.80,116.96 L452.86,116.43 L452.91,115.89 L452.97,115.37 L453.03,114.85 L453.08,114.34 L453.14,113.83 L453.20,113.34 L453.25,112.84 L453.31,112.36 L453.37,111.87 L453.42,111.40 L453.48,110.93 L453.54,110.47 L453.59,110.01 L453.61,109.86 M456.82,93.25 L457.05,92.71 L457.27,92.23 L457.50,91.78 L457.73,91.37 L457.99,90.93 L458.28,90.47 L458.56,90.03 L458.84,89.59 L459.12,89.13 L459.37,88.70 L459.60,88.29 L459.82,87.85 L460.05,87.42 L460.28,86.99 L460.50,86.58 L460.75,86.15 L461.03,85.72 L461.33,85.34 L461.69,85.03 L461.82,84.93 M472.51,88.94 L472.90,89.22 L473.30,89.52 L473.70,89.82 L474.09,90.12 L474.49,90.42 L474.89,90.72 L475.28,91.01 L475.68,91.30 L476.08,91.60 L476.47,91.90 L476.87,92.19 L477.26,92.48 L477.70,92.79 L478.15,93.11 L478.55,93.40 L478.96,93.68 L479.37,93.95 L479.84,94.25 L480.35,94.56 L480.69,94.75 M493.07,101.02 L493.57,101.26 L494.08,101.48 L494.59,101.71 L495.10,101.94 L495.61,102.16 L496.12,102.38 L496.63,102.60 L497.13,102.82 L497.64,103.04 L498.15,103.25 L498.66,103.47 L499.17,103.68 L499.68,103.89 L500.19,104.10 L500.69,104.31 L501.20,104.52 L501.71,104.73 L502.22,104.93 L502.56,105.07 M516.12,110.10 L516.63,110.26 L517.14,110.41 L517.65,110.57 L518.16,110.72 L518.66,110.87 L519.17,111.02 L519.68,111.17 L520.19,111.31 L520.70,111.45 L521.21,111.59 L521.72,111.73 L522.23,111.86 L522.73,111.99 L523.24,112.12 L523.75,112.25 L524.26,112.38 L524.77,112.51 L525.11,112.59 M537.82,115.31 L538.33,115.41 L538.84,115.51 L539.35,115.61 L539.86,115.71 L540.36,115.81 L540.87,115.91 L541.38,116.01 L541.89,116.11 L542.40,116.20 L542.91,116.30 L543.42,116.39 L543.93,116.49 L544.43,116.58 L544.94,116.67 L545.45,116.77 L545.96,116.86 L546.47,116.95 L546.98,117.03 L547.15,117.06 M560.20,119.08 L560.71,119.16 L561.22,119.23 L561.73,119.31 L562.23,119.39 L562.74,119.47 L563.25,119.56 L563.76,119.64 L564.27,119.72 L564.78,119.80 L565.29,119.88 L565.79,119.97 L566.30,120.05 L566.81,120.13 L567.32,120.22 L567.83,120.30 L568.34,120.39 L568.85,120.47 L569.02,120.50 M581.22,122.51 L581.73,122.59 L582.24,122.67 L582.75,122.74 L583.26,122.82 L583.76,122.90 L584.27,122.97 L584.78,123.05 L585.29,123.12 L585.80,123.20 L586.31,123.27 L586.82,123.35 L587.33,123.42 L587.83,123.49 L588.34,123.57 L588.85,123.64 L589.36,123.71 L589.70,123.76 M601.57,125.29 L602.07,125.35 L602.58,125.40 L603.09,125.46 L603.60,125.51 L604.11,125.57 L604.62,125.62 L605.13,125.67 L605.63,125.72 L606.14,125.77 L606.65,125.82 L607.16,125.87 L607.67,125.92 L608.18,125.96 L608.69,126.01 L609.19,126.05 L609.70,126.10 L610.21,126.14 L610.55,126.17 M623.27,126.99 L623.77,127.03 L624.28,127.06 L624.79,127.09 L625.30,127.12 L625.81,127.15 L626.32,127.19 L626.83,127.22 L627.33,127.25 L627.84,127.28 L628.35,127.32 L628.86,127.35 L629.37,127.38 L629.88,127.42 L630.39,127.45 L630.89,127.49 L631.40,127.52 L631.91,127.56 L632.42,127.59 L632.59,127.60" stroke="#0000ff"/>
<path d="M92.60,51.86 L93.65,51.99 L94.33,52.07 L95.01,52.15 L95.68,52.23 L96.36,52.32 L97.04,52.40 L97.72,52.48 L98.40,52.57 L99.08,52.65 L99.75,52.73 L100.43,52.82 L101.11,52.90 L101.79,52.98 L102.47,53.07 L103.14,53.15 L103.82,53.23 L104.50,53.32 L105.18,53.40 L105.86,53.48 L106.53,53.56 L107.21,53.64 L107.89,53.73 L108.57,53.81 L109.25,53.89 L109.93,53.97 L110.60,54.05 L111.28,54.13 L111.96,54.21 L112.64,54.29 L113.32,54.37 L113.99,54.44 L114.67,54.52 L115.35,54.61 L116.03,54.69 L116.71,54.77 L117.38,54.85 L118.06,54.93 L118.74,55.02 L119.42,55.10 L120.10,55.19 L120.78,55.27 L121.45,55.36 L122.13,55.44 L122.81,55.53 L123.49,55.62 L124.17,55.70 L124.84,55.79 L125.52,55.87 L126.20,55.96 L126.88,56.04 L127.56,56.12 L128.23,56.20 L128.91,56.28 L129.59,56.37 L130.27,56.45 L130.95,56.53 L131.62,56.61 L132.30,56.70 L132.98,56.78 L133.66,56.87 L134.34,56.95 L135.02,57.04 L135.69,57.13 L136.37,57.22 L137.05,57.32 L137.73,57.41 L138.41,57.51 L139.08,57.61 L139.76,57.71 L140.44,57.82 L141.12,57.92 L141.80,58.03 L142.47,58.14 L143.15,58.25 L143.83,58.36 L144.51,58.48 L145.19,58.59 L145.87,58.71 L146.54,58.82 L147.22,58.94 L147.90,59.06 L148.58,59.18 L149.26,59.31 L149.93,59.43 L150.61,59.56 L151.29,59.68 L151.97,59.81 L152.65,59.94 L153.33,60.07 L154.00,60.20 L154.68,60.33 L155.36,60.46 L156.04,60.59 L156.72,60.73 L157.39,60.86 L158.07,60.99 L158.75,61.13 L159.43,61.27 L160.11,61.40 L160.78,61.54 L161.46,61.68 L162.14,61.81 L162.82,61.95 L163.50,62.08 L164.18,62.22 L164.85,62.35 L165.53,62.49 L166.21,62.62 L166.89,62.75 L167.57,62.89 L168.24,63.02 L168.92,63.15 L169.60,63.29 L170.28,63.42 L170.96,63.55 L171.63,63.68 L172.31,63.82 L172.99,63.95 L173.67,64.09 L174.35,64.22 L175.03,64.36 L175.70,64.49 L176.38,64.63 L177.06,64.77 L177.74,64.91 L178.42,65.05 L179.09,65.19 L179.77,65.33 L180.45,65.48 L181.13,65.62 L181.81,65.77 L182.48,65.91 L183.16,66.06 L183.84,66.21 L184.52,66.36 L185.20,66.52 L185.88,66.67 L186.55,66.83 L187.23,66.99 L187.91,67.15 L188.59,67.32 L189.27,67.48 L189.94,67.65 L190.62,67.82 L191.30,67.99 L191.98,68.16 L192.66,68.34 L193.33,68.51 L194.01,68.68 L194.69,68.85 L195.37,69.02 L196.05,69.19 L196.73,69.36 L197.40,69.52 L198.08,69.69 L198.76,69.85 L199.44,70.01 L200.12,70.16 L200.79,70.32 L201.47,70.48 L202.15,70.63 L202.83,70.78 L203.51,70.93 L204.18,71.08 L204.86,71.23 L205.54,71.39 L206.22,71.54 L206.90,71.69 L207.57,71.84 L208.25,71.99 L208.93,72.14 L209.61,72.29 L210.29,72.44 L210.97,72.60 L211.64,72.75 L212.32,72.91 L213.00,73.06 L213.68,73.22 L214.36,73.38 L215.03,73.54 L215.71,73.71 L216.39,73.87 L217.07,74.04 L217.75,74.21 L218.43,74.39 L219.10,74.57 L219.78,74.75 L220.46,74.93 L221.14,75.12 L221.82,75.30 L222.49,75.50 L223.17,75.69 L223.85,75.88 L224.53,76.07 L225.21,76.27 L225.88,76.46 L226.56,76.65 L227.24,76.84 L227.92,77.03 L228.60,77.22 L229.27,77.40 L229.95,77.58 L230.63,77.76 L231.31,77.93 L231.99,78.11 L232.67,78.28 L233.34,78.45 L234.02,78.61 L234.70,78.77 L235.38,78.94 L236.06,79.10 L236.73,79.25 L237.41,79.41 L238.09,79.57 L238.77,79.72 L239.45,79.87 L240.13,80.03 L240.80,80.18 L241.48,80.33 L242.16,80.47 L242.84,80.62 L243.52,80.77 L244.19,80.91 L244.87,81.06 L245.55,81.20 L246.23,81.34 L246.91,81.48 L247.58,81.62 L248.26,81.76 L248.94,81.91 L249.62,82.05 L250.30,82.19 L250.98,82.33 L251.65,82.47 L252.33,82.61 L253.01,82.76 L253.69,82.90 L254.37,83.05 L255.04,83.20 L255.72,83.35 L256.40,83.51 L257.08,83.66 L257.76,83.82 L258.43,83.98 L259.11,84.14 L259.79,84.30 L260.47,84.46 L261.15,84.62 L261.83,84.78 L262.50,84.94 L263.18,85.10 L263.86,85.26 L264.54,85.41 L265.22,85.57 L265.89,85.73 L266.57,85.89 L267.25,86.04 L267.93,86.20 L268.61,86.35 L269.28,86.50 L269.96,86.66 L270.64,86.81 L271.32,86.96 L272.00,87.10 L272.68,87.25 L273.35,87.39 L274.03,87.54 L274.71,87.68 L275.39,87.82 L276.07,87.95 L276.74,88.08 L277.42,88.21 L278.10,88.34 L278.78,88.47 L279.46,88.59 L280.13,88.71 L280.81,88.83 L281.49,88.95 L282.17,89.06 L282.85,89.17 L283.53,89.29 L284.20,89.40 L284.88,89.51 L285.56,89.63 L286.24,89.74 L286.92,89.86 L287.59,89.98 L288.27,90.11 L288.95,90.23 L289.63,90.36 L290.31,90.49 L290.98,90.63 L291.66,90.77 L292.34,90.90 L293.02,91.05 L293.70,91.19 L294.38,91.33 L295.05,91.48 L295.73,91.63 L296.41,91.78 L297.09,91.93 L297.77,92.08 L298.44,92.23 L299.12,92.38 L299.80,92.53 L300.48,92.69 L301.16,92.84 L301.83,92.99 L302.51,93.15 L303.19,93.31 L303.87,93.46 L304.55,93.62 L305.23,93.78 L305.90,93.93 L306.58,94.09 L307.26,94.25 L307.94,94.41 L308.62,94.57 L309.29,94.73 L309.97,94.89 L310.65,95.05 L311.33,95.21 L312.01,95.37 L312.68,95.53 L313.36,95.70 L314.04,95.86 L314.72,96.02 L315.40,96.18 L316.08,96.34 L316.75,96.50 L317.43,96.66 L318.11,96.82 L318.79,96.98 L319.47,97.14 L320.14,97.30 L320.82,97.46 L321.50,97.62 L322.18,97.77 L322.86,97.93 L323.53,98.09 L324.21,98.25 L324.89,98.41 L325.57,98.57 L326.25,98.73 L326.93,98.89 L327.60,99.05 L328.28,99.21 L328.96,99.37 L329.64,99.54 L330.32,99.70 L330.99,99.87 L331.67,100.03 L332.35,100.20 L333.03,100.37 L333.71,100.53 L334.38,100.70 L335.06,100.87 L335.74,101.04 L336.42,101.22 L337.10,101.39 L337.78,101.56 L338.45,101.73 L339.13,101.90 L339.81,102.07 L340.49,102.24 L341.17,102.42 L341.84,102.59 L342.52,102.75 L343.20,102.92 L343.88,103.09 L344.56,103.25 L345.23,103.42 L345.91,103.58 L346.59,103.74 L347.27,103.90 L347.95,104.05 L348.63,104.21 L349.30,104.36 L349.98,104.51 L350.66,104.66 L351.34,104.80 L352.02,104.95 L352.69,105.09 L353.37,105.23 L354.05,105.37 L354.73,105.51 L355.41,105.65 L356.08,105.79 L356.76,105.92 L357.44,106.06 L358.12,106.20 L358.80,106.33 L359.48,106.47 L360.15,106.61 L360.83,106.74 L361.51,106.88 L362.19,107.02 L362.87,107.16 L363.54,107.30 L364.22,107.45 L364.90,107.59 L365.58,107.74 L366.26,107.89 L366.93,108.03 L367.61,108.18 L368.29,108.34 L368.97,108.49 L369.65,108.64 L370.33,108.80 L371.00,108.95 L371.68,109.11 L372.36,109.27 L373.04,109.43 L373.72,109.59 L374.39,109.75 L375.07,109.91 L375.75,110.07 L376.43,110.23 L377.11,110.39 L377.78,110.56 L378.46,110.72 L379.14,110.88 L379.82,111.04 L380.50,111.21 L381.18,111.37 L381.85,111.53 L382.53,111.69 L383.21,111.86 L383.89,112.02 L384.57,112.18 L385.24,112.34 L385.92,112.50 L386.60,112.66 L387.28,112.82 L387.96,112.98 L388.63,113.13 L389.31,113.29 L389.99,113.45 L390.67,113.61 L391.35,113.76 L392.02,113.92 L392.70,114.08 L393.38,114.23 L394.06,114.39 L394.74,114.55 L395.42,114.71 L396.09,114.87 L396.77,115.03 L397.45,115.19 L398.13,115.36 L398.81,115.52 L399.48,115.69 L400.16,115.86 L400.84,116.03 L401.52,116.20 L402.20,116.38 L402.88,116.55 L403.55,116.73 L404.23,116.91 L404.91,117.09 L405.59,117.27 L406.27,117.46 L406.94,117.65 L407.62,117.84 L408.30,118.03 L408.98,118.22 L409.66,118.41 L410.33,118.61 L411.01,118.81 L411.69,119.01 L412.37,119.21 L413.05,119.42 L413.73,119.62 L414.40,119.83 L415.08,120.05 L415.76,120.26 L416.44,120.48 L417.12,120.70 L417.79,120.92 L418.47,121.15 L419.15,121.37 L419.83,121.61 L420.51,121.84 L421.18,122.08 L421.86,122.32 L422.54,122.57 L423.22,122.82 L423.90,123.07 L424.58,123.33 L425.25,123.59 L425.93,123.86 L426.61,124.13 L427.29,124.40 L427.97,124.68 L428.64,124.96 L429.32,125.24 L430.00,125.52 L430.68,125.81 L431.36,126.10 L432.03,126.39 L432.71,126.69 L433.39,126.99 L434.07,127.29 L434.75,127.59 L435.42,127.90 L436.10,128.20 L436.78,128.51 L437.46,128.83 L438.14,129.15 L438.82,129.47 L439.49,129.79 L440.17,130.12 L440.85,130.46 L441.53,130.79 L442.21,131.14 L442.88,131.49 L443.56,131.84 L444.24,132.20 L444.92,132.57 L445.60,132.95 L446.27,133.33 L446.95,133.72 L447.63,134.12 L448.31,134.52 L448.99,134.93 L449.67,135.36 L450.34,135.79 L451.02,136.23 L451.70,136.68 L452.38,137.14 L453.06,137.60 L453.73,138.08 L454.41,138.57 L455.09,139.07 L455.77,139.59 L456.45,140.11 L457.12,140.64 L457.80,141.19 L458.48,141.75 L459.16,142.32 L459.84,142.91 L460.52,143.51 L461.19,144.12 L461.87,144.75 L462.55,145.40 L463.23,146.06 L463.91,146.74 L464.58,147.43 L465.26,148.12 L465.94,148.84 L466.62,149.57 L467.30,150.32 L467.98,151.10 L468.65,151.89 L469.33,152.71 L470.01,153.55 L470.69,154.41 L471.37,155.30 L472.04,156.22 L472.72,157.17 L473.40,158.16 L474.08,159.18 L474.76,160.25 L475.43,161.36 L476.11,162.54 L476.79,163.78 L477.47,165.11 L478.15,166.50 L478.82,167.93 L479.50,169.43 L480.18,171.00 L480.86,172.65 L481.54,174.38 L481.80,175.08 L481.92,175.40 L482.04,175.73 L482.16,176.06 L482.28,176.39 L482.40,176.72 L482.52,177.06 L482.64,177.40 L482.74,177.68 L482.84,177.97 L482.94,178.26 L483.04,178.55 L483.14,178.84 L483.24,179.14 L483.34,179.44 L483.44,179.74 L483.54,180.05 L483.64,180.35 L483.74,180.66 L483.84,180.97 L483.94,181.29 L484.04,181.60 L484.14,181.92 L484.24,182.24 L484.34,182.57 L484.44,182.89 L484.54,183.22 L484.64,183.56 L484.74,183.89 L484.84,184.23 L484.93,184.52 L485.02,184.85 L485.12,185.19 L485.22,185.54 L485.32,185.89 L485.42,186.25 L485.52,186.61 L485.61,186.91 L485.70,187.26 L485.78,187.55 L485.86,187.85 L485.94,188.15 L486.02,188.45 L486.10,188.75 L486.18,189.05 L486.26,189.36 L486.34,189.67 L486.42,189.98 L486.50,190.29 L486.58,190.61 L486.66,190.92 L486.74,191.24 L486.82,191.57 L486.90,191.89 L486.98,192.22 L487.06,192.55 L487.14,192.88 L487.22,193.21 L487.30,193.55 L487.38,193.89 L487.46,194.23 L487.54,194.58 L487.62,194.92 L487.70,195.27 L487.78,195.63 L487.86,195.98 L487.94,196.34 L488.02,196.70 L488.10,197.07 L488.18,197.43 L488.26,197.80 L488.34,198.17 L488.42,198.55 L488.50,198.93 L488.58,199.31 L488.66,199.69 L488.74,200.08 L488.82,200.47 L488.88,200.77 L488.94,201.07 L489.00,201.36 L489.06,201.66 L489.12,201.97 L489.18,202.27 L489.24,202.58 L489.30,202.89 L489.36,203.20 L489.42,203.51 L489.48,203.82 L489.54,204.14 L489.60,204.46 L489.66,204.78 L489.72,205.10 L489.78,205.42 L489.84,205.75 L489.90,206.08 L489.96,206.41 L490.02,206.74 L490.08,207.08 L490.14,207.41 L490.20,207.75 L490.26,208.09 L490.32,208.44 L490.38,208.78 L490.44,209.13 L490.50,209.48 L490.56,209.84 L490.62,210.19 L490.68,210.55 L490.74,210.91 L490.80,211.27 L490.86,211.64 L490.92,212.00 L490.98,212.37 L491.03,212.69 L491.08,213.00 L491.14,213.37 L491.20,213.75 L491.26,214.14 L491.32,214.52 L491.38,214.91 L491.44,215.30 L491.50,215.69 L491.56,216.09 L491.62,216.49 L491.68,216.89 L491.74,217.29 L491.80,217.70 L491.86,218.11 L491.92,218.52 L491.98,218.94 L492.04,219.36 L492.10,219.78 L492.16,220.20 L492.22,220.63 L492.28,221.06 L492.34,221.50 L492.39,221.84 L492.44,222.23 L492.50,222.67 L492.54,222.97 L492.58,223.27 L492.62,223.57 L492.66,223.87 L492.70,224.18 L492.74,224.48 L492.78,224.79 L492.82,225.10 L492.86,225.41 L492.90,225.72 L492.94,226.03 L492.98,226.34 L493.02,226.66 L493.06,226.98 L493.10,227.30 L493.14,227.62 L493.18,227.94 L493.22,228.27 L493.26,228.59 L493.30,228.92 L493.34,229.25 L493.38,229.58 L493.42,229.91 L493.46,230.25 L493.50,230.58 L493.54,230.92 L493.58,231.26 L493.62,231.61 L493.66,231.95 L493.70,232.29 L493.74,232.64 L493.78,232.99 L493.82,233.34 L493.86,233.70 L493.90,234.05 L493.94,234.41 L493.98,234.77 L494.02,235.13 L494.06,235.49 L494.10,235.86 L494.14,236.22 L494.18,236.59 L494.22,236.96 L494.26,237.34 L494.30,237.71 L494.34,238.09 L494.38,238.47 L494.42,238.85 L494.46,239.23 L494.50,239.62 L494.54,240.01 L494.58,240.40 L494.62,240.79 L494.66,241.19 L494.70,241.58 L494.74,241.98 L494.78,242.39 L494.82,242.79 L494.86,243.20 L494.90,243.61 L494.94,244.02 L494.98,244.43 L495.02,244.85 L495.06,245.27 L495.10,245.68 L495.14,246.11 L495.18,246.54 L495.22,246.96 L495.26,247.40 L495.30,247.83 L495.34,248.27 L495.38,248.71 L495.42,249.15 L495.46,249.59 L495.50,250.04 L495.54,250.49 L495.58,250.94 L495.62,251.40 L495.66,251.85 L495.70,252.32 L495.74,252.78 L495.78,253.22 L495.82,253.72 L495.86,254.19 L495.90,254.66 L495.94,255.14 L495.98,255.62 L496.02,256.11 L496.06,256.60 L496.10,257.09 L496.14,257.58 L496.18,258.08 L496.22,258.58 L496.26,259.08 L496.30,259.59 L496.34,260.10 L496.38,260.61 L496.42,261.13 L496.46,261.60 L496.48,261.91 L496.52,262.44 L496.56,262.97 L496.60,263.50 L496.64,264.04 L496.68,264.57 L496.72,265.12 L496.76,265.66 L496.80,266.21 L496.84,266.77 L496.88,267.33 L496.92,267.89 L496.96,268.45 L497.00,269.02 L497.04,269.60 L497.08,270.17 L497.12,270.75 L497.16,271.34 L497.20,271.93 L497.24,272.52 L497.28,273.12 L497.30,273.42 L497.32,273.72 L497.34,274.02 L497.36,274.33 L497.38,274.63 L497.40,274.94 L497.42,275.24 L497.44,275.55 L497.46,275.86 L497.48,276.17 L497.50,276.48 L497.52,276.79 L497.54,277.11 L497.56,277.42 L497.58,277.73 L497.60,278.05 L497.62,278.37 L497.64,278.69 L497.66,279.01 L497.68,279.33 L497.70,279.65 L497.72,279.97 L497.74,280.30 L497.76,280.62 L497.78,280.95 L497.80,281.28 L497.82,281.61 L497.84,281.94 L497.86,282.27 L497.88,282.60 L497.90,282.94 L497.92,283.27 L497.94,283.61 L497.96,283.95 L497.98,284.29 L498.00,284.63 L498.02,284.97 L498.04,285.31 L498.06,285.65 L498.08,286.00 L498.10,286.35 L498.12,286.69 L498.14,287.04 L498.16,287.39 L498.18,287.74 L498.20,288.10 L498.22,288.45 L498.24,288.81 L498.26,289.16 L498.28,289.52 L498.30,289.88 L498.32,290.24 L498.34,290.60 L498.36,290.97 L498.38,291.33 L498.40,291.70 L498.42,292.07 L498.44,292.44 L498.46,292.81 L498.48,293.18 L498.50,293.55 L498.52,293.93 L498.54,294.30 L498.56,294.68 L498.58,295.06 L498.60,295.44 L498.62,295.82 L498.64,296.20 L498.66,296.59 L498.68,296.98 L498.70,297.36 L498.72,297.75 L498.74,298.14 L498.76,298.53 L498.78,298.93 L498.80,299.32 L498.82,299.72 L498.84,300.12 L498.86,300.52 L498.88,300.92 L498.90,301.32 L498.92,301.73 L498.94,302.13 L498.96,302.54 L498.98,302.95 L499.00,303.36 L499.02,303.77 L499.04,304.19 L499.06,304.60 L499.08,305.02 L499.10,305.44 L499.12,305.86 L499.14,306.28 L499.16,306.70 L499.18,307.13 L499.20,307.55 L499.22,307.98 L499.24,308.41 L499.26,308.84 L499.28,309.28 L499.30,309.71 L499.32,310.15 L499.34,310.59 L499.36,311.03 L499.38,311.47 L499.40,311.91 L499.42,312.36 L499.44,312.81 L499.46,313.25 L499.48,313.71 L499.50,314.16 L499.52,314.61 L499.54,315.07 L499.56,315.53 L499.58,315.98 L499.60,316.45 L499.62,316.91 L499.64,317.37 L499.66,317.84 L499.68,318.31 L499.70,318.78 L499.72,319.25 L499.74,319.72 L499.76,320.20 L499.78,320.68 L499.80,321.16 L499.82,321.64 L499.84,322.12 L499.86,322.60 L499.88,323.09 L499.90,323.58 L499.92,324.07 L499.94,324.56 L499.96,325.06 L499.98,325.55 L500.00,326.05 L500.02,326.55 L500.04,327.05 L500.06,327.55 L500.08,328.06 L500.10,328.57 L500.12,329.08 L500.14,329.59 L500.16,330.10 L500.18,330.62 L500.20,331.13 L500.22,331.65 L500.24,332.17 L500.26,332.69 L500.28,333.22 L500.30,333.74 L500.32,334.27 L500.34,334.80 L500.36,335.33 L500.38,335.87 L500.40,336.40 L500.42,336.94 L500.44,337.48 L500.46,338.02 L500.48,338.56 L500.50,339.11 L500.52,339.66 L500.54,340.20 L500.56,340.76 L500.58,341.31 L500.60,341.86 L500.62,342.42 L500.64,342.98 L500.66,343.54 L500.68,344.10 L500.70,344.66 L500.72,345.22 L500.74,345.79 L500.76,346.36 L500.78,346.93 L500.80,347.50 L500.82,348.08 L500.84,348.65 L500.86,349.23 L500.88,349.81 L500.90,350.39 L500.92,350.97 L500.94,351.55 L500.96,352.14 L500.98,352.72 L501.00,353.31 L501.02,353.90 L501.04,354.49 L501.06,355.08 L501.08,355.68 L501.10,356.27 L501.12,356.87 L501.14,357.47 L501.16,358.07 L501.18,358.67 L501.20,359.27 L501.22,359.87 L501.24,360.48 L501.26,361.08 L501.28,361.69 L501.30,362.29 L501.32,362.90 L501.34,363.51 L501.36,364.12 L501.38,364.73 L501.40,365.34 L501.42,365.95 L501.44,366.57 L501.46,367.18 L501.48,367.79 L501.50,368.41 L501.52,369.02 L501.54,369.64 L501.56,370.25 L501.58,370.87 L501.60,371.48 L501.62,372.10 L501.64,372.71 L501.66,373.33 L501.68,373.94 L501.70,374.56 L501.72,375.17 L501.74,375.78 L501.76,376.40 L501.78,377.01 L501.80,377.62 L501.82,378.23 L501.84,378.84 L501.86,379.45 L501.88,380.05 L501.90,380.66 L501.92,381.26 L501.94,381.86 L501.96,382.46 L501.98,383.06 L502.00,383.66 L502.02,384.25 L502.04,384.84 L502.06,385.43 L502.08,386.02 L502.10,386.60 L502.12,387.18 L502.14,387.76 L502.16,388.34 L502.18,388.91 L502.20,389.47 L502.22,390.04 L502.24,390.60 L502.26,391.15 L502.28,391.70 L502.30,392.25 L502.32,392.79 L502.34,393.33 L502.36,393.86 L502.38,394.39 L502.40,394.91 L502.42,395.42 L502.44,395.93 L502.46,396.44 L502.48,396.93 L502.50,397.42 L502.52,397.91 L502.54,398.38 L502.56,398.85 L502.58,399.31 L502.60,399.77 L502.62,400.21 L502.64,400.65 L502.66,401.08 L502.68,401.50 L502.70,401.91 L502.72,402.31 L502.74,402.71 L502.76,403.09 L502.78,403.46 L502.80,403.83 L502.82,404.18 L502.84,404.52 L502.86,404.86 L502.88,405.18 L502.90,405.49 L502.94,406.07 L502.98,406.61 L503.02,407.10 L503.06,407.53 L503.10,407.92 L503.14,408.25 L503.20,408.64 L503.28,408.96 L503.30,404.56 L503.32,388.14 L503.34,387.07 L503.38,391.93 L503.40,408.66 L503.54,408.34 L503.58,408.01 L503.62,407.63 L503.66,407.18 L503.70,406.67 L503.74,406.10 L503.76,405.79 L503.78,405.47 L503.80,405.14 L503.82,404.79 L503.84,404.42 L503.86,404.05 L503.88,403.65 L503.90,403.25 L503.92,402.91 L503.94,402.40 L503.96,401.95 L503.98,401.49 L504.00,401.02 L504.02,400.54 L504.04,400.04 L504.06,399.53 L504.08,399.01 L504.10,398.48 L504.12,397.94 L504.14,397.38 L504.16,396.82 L504.18,396.24 L504.20,395.65 L504.22,395.05 L504.24,394.45 L504.26,393.83 L504.28,393.20 L504.30,392.56 L504.32,391.92 L504.34,391.26 L504.36,390.60 L504.38,389.93 L504.40,389.25 L504.42,388.56 L504.44,387.86 L504.46,387.16 L504.48,386.45 L504.50,385.73 L504.52,385.00 L504.54,384.27 L504.56,383.54 L504.58,382.79 L504.59,382.25 L504.62,381.29 L504.64,380.52 L504.66,379.76 L504.68,378.99 L504.70,378.21 L504.72,377.43 L504.74,376.64 L504.76,375.85 L504.78,375.06 L504.80,374.26 L504.82,373.46 L504.84,372.65 L504.86,371.84 L504.88,371.03 L504.90,370.21 L504.92,369.40 L504.94,368.57 L504.96,367.75 L504.98,366.92 L505.00,366.10 L505.02,365.26 L505.04,364.43 L505.06,363.60 L505.08,362.76 L505.10,361.92 L505.12,361.08 L505.14,360.24 L505.16,359.40 L505.18,358.55 L505.20,357.71 L505.22,356.86 L505.24,356.02 L505.26,355.17 L505.27,354.64 L505.28,354.32 L505.30,353.48 L505.32,352.63 L505.34,351.78 L505.36,350.93 L505.38,350.08 L505.40,349.23 L505.42,348.38 L505.44,347.53 L505.46,346.69 L505.48,345.84 L505.50,344.99 L505.52,344.14 L505.54,343.29 L505.56,342.45 L505.58,341.60 L505.60,340.76 L505.62,339.91 L505.64,339.07 L505.66,338.23 L505.68,337.38 L505.70,336.54 L505.72,335.70 L505.74,334.86 L505.76,334.03 L505.78,333.19 L505.80,332.35 L505.82,331.52 L505.84,330.69 L505.86,329.86 L505.88,329.03 L505.90,328.20 L505.92,327.37 L505.94,326.54 L505.95,326.10 L505.96,325.72 L505.98,324.90 L506.00,324.07 L506.02,323.26 L506.04,322.44 L506.06,321.62 L506.08,320.81 L506.10,319.99 L506.12,319.18 L506.14,318.37 L506.16,317.56 L506.18,316.76 L506.20,315.95 L506.22,315.15 L506.24,314.35 L506.26,313.55 L506.28,312.75 L506.30,311.96 L506.32,311.17 L506.34,310.38 L506.36,309.59 L506.38,308.80 L506.40,308.01 L506.42,307.23 L506.44,306.45 L506.46,305.67 L506.48,304.89 L506.50,304.11 L506.52,303.34 L506.54,302.57 L506.56,301.80 L506.58,301.03 L506.60,300.27 L506.62,299.50 L506.63,299.16 L506.64,298.74 L506.66,297.98 L506.68,297.22 L506.70,296.47 L506.72,295.71 L506.74,294.96 L506.76,294.21 L506.78,293.46 L506.80,292.72 L506.82,291.98 L506.84,291.23 L506.86,290.49 L506.88,289.76 L506.90,289.02 L506.92,288.29 L506.94,287.56 L506.96,286.83 L506.98,286.10 L507.00,285.38 L507.02,284.65 L507.04,283.93 L507.06,283.21 L507.08,282.50 L507.10,281.78 L507.12,281.07 L507.14,280.36 L507.16,279.65 L507.18,278.94 L507.20,278.23 L507.22,277.53 L507.24,276.83 L507.26,276.13 L507.28,275.43 L507.30,274.74 L507.32,274.05 L507.34,273.36 L507.36,272.67 L507.38,271.98 L507.40,271.29 L507.42,270.61 L507.44,269.93 L507.46,269.25 L507.48,268.57 L507.50,267.90 L507.52,267.22 L507.54,266.55 L507.56,265.88 L507.58,265.21 L507.60,264.55 L507.62,263.88 L507.64,263.22 L507.66,262.56 L507.68,261.90 L507.70,261.25 L507.72,260.59 L507.74,259.94 L507.76,259.29 L507.78,258.64 L507.80,257.99 L507.82,257.35 L507.84,256.71 L507.86,256.06 L507.88,255.42 L507.90,254.79 L507.92,254.15 L507.94,253.52 L507.96,252.88 L507.98,252.25 L508.00,251.62 L508.02,251.00 L508.04,250.37 L508.06,249.75 L508.08,249.13 L508.10,248.51 L508.12,247.89 L508.14,247.27 L508.16,246.66 L508.18,246.04 L508.20,245.43 L508.22,244.82 L508.24,244.21 L508.26,243.61 L508.28,243.00 L508.30,242.40 L508.32,241.80 L508.34,241.20 L508.36,240.60 L508.38,240.01 L508.40,239.41 L508.42,238.82 L508.44,238.23 L508.46,237.64 L508.48,237.05 L508.50,236.47 L508.52,235.88 L508.54,235.30 L508.56,234.72 L508.58,234.14 L508.60,233.56 L508.62,232.98 L508.64,232.41 L508.66,231.84 L508.68,231.27 L508.70,230.70 L508.72,230.13 L508.74,229.56 L508.76,229.00 L508.78,228.43 L508.80,227.87 L508.82,227.31 L508.84,226.75 L508.86,226.19 L508.88,225.64 L508.90,225.08 L508.92,224.53 L508.94,223.98 L508.96,223.43 L508.98,222.88 L509.00,222.33 L509.02,221.79 L509.04,221.24 L509.06,220.70 L509.08,220.16 L509.10,219.62 L509.12,219.08 L509.14,218.55 L509.16,218.01 L509.18,217.48 L509.20,216.95 L509.22,216.42 L509.24,215.89 L509.26,215.36 L509.28,214.83 L509.30,214.31 L509.32,213.79 L509.34,213.26 L509.36,212.74 L509.38,212.23 L509.40,211.71 L509.42,211.19 L509.44,210.68 L509.46,210.16 L509.48,209.65 L509.50,209.14 L509.52,208.63 L509.54,208.12 L509.56,207.62 L509.58,207.11 L509.60,206.61 L509.62,206.10 L509.64,205.60 L509.66,205.10 L509.68,204.61 L509.70,204.11 L509.72,203.61 L509.74,203.12 L509.76,202.63 L509.78,202.13 L509.80,201.64 L509.82,201.15 L509.84,200.67 L509.86,200.18 L509.88,199.69 L509.90,199.21 L509.92,198.73 L509.94,198.25 L509.96,197.77 L509.98,197.29 L510.00,196.81 L510.02,196.34 L510.04,195.86 L510.06,195.39 L510.08,194.91 L510.10,194.44 L510.12,193.97 L510.14,193.51 L510.16,193.04 L510.18,192.57 L510.20,192.11 L510.22,191.64 L510.24,191.18 L510.26,190.72 L510.28,190.26 L510.30,189.80 L510.32,189.35 L510.34,188.89 L510.36,188.43 L510.38,187.98 L510.40,187.53 L510.42,187.08 L510.44,186.63 L510.46,186.18 L510.48,185.73 L510.50,185.28 L510.52,184.84 L510.54,184.40 L510.56,183.95 L510.58,183.51 L510.60,183.07 L510.62,182.63 L510.64,182.19 L510.66,181.76 L510.68,181.32 L510.70,180.92 L510.72,180.45 L510.74,180.02 L510.76,179.59 L510.78,179.16 L510.80,178.73 L510.82,178.30 L510.84,177.88 L510.86,177.45 L510.88,177.03 L510.90,176.60 L510.92,176.18 L510.94,175.76 L510.96,175.34 L510.98,174.92 L511.00,174.51 L511.02,174.09 L511.04,173.68 L511.06,173.26 L511.08,172.85 L511.10,172.44 L511.12,172.03 L511.14,171.62 L511.16,171.21 L511.18,170.80 L511.20,170.39 L511.22,169.99 L511.24,169.59 L511.26,169.18 L511.28,168.78 L511.30,168.38 L511.32,167.98 L511.34,167.58 L511.36,167.18 L511.38,166.86 L511.40,166.39 L511.42,166.00 L511.44,165.61 L511.46,165.21 L511.48,164.82 L511.50,164.43 L511.52,164.04 L511.54,163.66 L511.56,163.27 L511.58,162.88 L511.60,162.50 L511.62,162.12 L511.64,161.73 L511.66,161.35 L511.68,160.97 L511.70,160.59 L511.72,160.21 L511.74,159.84 L511.76,159.46 L511.78,159.09 L511.80,158.71 L511.82,158.34 L511.84,157.97 L511.86,157.60 L511.88,157.23 L511.90,156.86 L511.92,156.49 L511.94,156.12 L511.96,155.76 L511.98,155.39 L512.00,155.03 L512.02,154.67 L512.04,154.30 L512.06,153.94 L512.08,153.58 L512.10,153.22 L512.12,152.87 L512.14,152.51 L512.16,152.15 L512.18,151.80 L512.20,151.45 L512.22,151.09 L512.24,150.74 L512.26,150.39 L512.28,150.04 L512.30,149.69 L512.32,149.35 L512.34,149.00 L512.36,148.65 L512.38,148.31 L512.40,147.96 L512.42,147.62 L512.44,147.28 L512.46,146.94 L512.48,146.60 L512.50,146.26 L512.52,145.92 L512.54,145.59 L512.56,145.25 L512.58,144.91 L512.60,144.58 L512.62,144.25 L512.64,143.92 L512.66,143.58 L512.68,143.25 L512.70,142.92 L512.72,142.60 L512.74,142.27 L512.76,141.94 L512.78,141.62 L512.80,141.29 L512.82,140.97 L512.84,140.65 L512.86,140.33 L512.88,140.01 L512.90,139.69 L512.92,139.37 L512.94,139.05 L512.96,138.73 L512.98,138.42 L513.00,138.10 L513.02,137.79 L513.04,137.47 L513.06,137.16 L513.08,136.85 L513.10,136.54 L513.12,136.23 L513.14,135.92 L513.16,135.62 L513.18,135.31 L513.20,135.00 L513.22,134.70 L513.24,134.39 L513.26,134.09 L513.28,133.79 L513.30,133.49 L513.32,133.19 L513.36,132.59 L513.40,132.00 L513.44,131.41 L513.48,130.82 L513.52,130.24 L513.56,129.66 L513.60,129.08 L513.64,128.51 L513.68,127.94 L513.72,127.38 L513.76,126.81 L513.80,126.26 L513.84,125.70 L513.88,125.15 L513.92,124.60 L513.96,124.06 L514.00,123.52 L514.04,122.98 L514.08,122.45 L514.12,121.92 L514.16,121.39 L514.20,120.87 L514.24,120.35 L514.28,119.83 L514.32,119.32 L514.36,118.81 L514.40,118.30 L514.44,117.80 L514.48,117.30 L514.52,116.80 L514.56,116.31 L514.60,115.82 L514.64,115.34 L514.68,114.85 L514.72,114.37 L514.76,113.90 L514.80,113.42 L514.84,112.95 L514.88,112.49 L514.92,112.02 L514.96,111.56 L515.00,111.11 L515.04,110.65 L515.08,110.20 L515.12,109.75 L515.16,109.31 L515.20,108.87 L515.24,108.43 L515.28,108.00 L515.32,107.56 L515.36,107.14 L515.40,106.71 L515.44,106.29 L515.48,105.87 L515.52,105.45 L515.56,105.04 L515.60,104.63 L515.64,104.22 L515.68,103.82 L515.72,103.42 L515.76,103.02 L515.80,102.62 L515.84,102.23 L515.88,101.84 L515.92,101.46 L515.96,101.07 L516.00,100.69 L516.04,100.32 L516.08,99.94 L516.12,99.57 L516.16,99.20 L516.20,98.84 L516.24,98.47 L516.28,98.11 L516.32,97.75 L516.36,97.40 L516.40,97.05 L516.44,96.70 L516.48,96.35 L516.52,96.01 L516.56,95.67 L516.60,95.33 L516.64,95.00 L516.68,94.66 L516.72,94.33 L516.76,94.01 L516.80,93.68 L516.84,93.36 L516.88,93.04 L516.92,92.73 L516.96,92.41 L517.00,92.10 L517.04,91.79 L517.08,91.49 L517.12,91.19 L517.16,90.88 L517.20,90.59 L517.26,90.14 L517.32,89.71 L517.38,89.28 L517.44,88.85 L517.50,88.43 L517.56,88.02 L517.62,87.61 L517.68,87.21 L517.74,86.81 L517.80,86.42 L517.86,86.03 L517.92,85.65 L517.98,85.27 L518.04,84.90 L518.10,84.53 L518.16,84.18 L518.22,83.81 L518.28,83.46 L518.34,83.12 L518.40,82.78 L518.46,82.44 L518.52,82.11 L518.58,81.78 L518.64,81.46 L518.70,81.14 L518.76,80.83 L518.82,80.52 L518.88,80.22 L518.94,79.92 L519.00,79.62 L519.08,79.24 L519.16,78.86 L519.24,78.49 L519.32,78.13 L519.40,77.77 L519.48,77.43 L519.56,77.09 L519.64,76.75 L519.72,76.43 L519.80,76.11 L519.88,75.80 L519.96,75.49 L520.04,75.19 L520.12,74.90 L520.22,74.54 L520.32,74.20 L520.42,73.86 L520.52,73.54 L520.62,73.22 L520.72,72.91 L520.82,72.62 L520.92,72.33 L521.04,71.99 L521.16,71.67 L521.28,71.36 L521.40,71.06 L521.52,70.77 L521.64,70.50 L521.78,70.19 L521.92,69.89 L522.04,69.57 L522.14,69.25 L522.24,68.93 L522.34,68.64 L522.46,68.30 L522.58,67.98 L522.70,67.69 L522.82,67.41 L522.96,67.11 L523.14,66.85 L523.36,66.61 L523.60,66.41 L523.90,66.44 L524.20,66.34 L524.50,66.27 L524.80,66.22 L525.10,66.19 L525.40,66.19 L525.70,66.20 L526.00,66.23 L526.30,66.26 L526.60,66.32 L526.90,66.38 L527.20,66.45 L527.50,66.53 L527.80,66.61 L528.10,66.71 L528.40,66.82 L528.70,66.93 L528.98,67.04 L529.26,67.16 L529.54,67.29 L529.82,67.43 L530.10,67.57 L530.36,67.72 L530.64,67.87 L530.90,68.03 L531.16,68.19 L531.42,68.36 L531.68,68.53 L531.94,68.71 L532.20,68.89 L532.46,69.07 L532.72,69.26 L532.98,69.46 L533.22,69.64 L533.46,69.82 L533.70,70.01 L533.94,70.20 L534.18,70.39 L534.42,70.58 L534.66,70.77 L534.90,70.96 L535.14,71.16 L535.38,71.35 L535.62,71.54 L535.86,71.74 L536.10,71.93 L536.34,72.13 L536.58,72.32 L536.82,72.52 L537.06,72.71 L537.30,72.90 L537.54,73.09 L537.78,73.29 L538.02,73.48 L538.26,73.67 L538.49,73.86 L538.73,74.05 L538.97,74.23 L539.21,74.42 L539.45,74.61 L539.69,74.79 L539.93,74.98 L540.17,75.16 L540.41,75.34 L540.65,75.53 L540.89,75.71 L541.15,75.90 L541.41,76.09 L541.67,76.28 L542.57,76.93 L543.25,77.42 L543.93,77.89 L544.60,78.35 L545.28,78.80 L545.96,79.25 L546.64,79.68 L547.32,80.10 L547.99,80.52 L548.67,80.93 L549.35,81.32 L550.03,81.71 L550.71,82.09 L551.38,82.46 L552.06,82.82 L552.74,83.18 L553.42,83.53 L554.10,83.87 L554.77,84.20 L555.45,84.53 L556.13,84.85 L556.81,85.16 L557.49,85.47 L558.17,85.77 L558.84,86.07 L559.52,86.36 L560.20,86.65 L560.88,86.93 L561.56,87.21 L562.23,87.48 L562.91,87.75 L563.59,88.02 L564.27,88.28 L564.95,88.53 L565.62,88.78 L566.30,89.03 L566.98,89.27 L567.66,89.51 L568.34,89.75 L569.02,89.98 L569.69,90.21 L570.37,90.43 L571.05,90.65 L571.73,90.87 L572.41,91.08 L573.08,91.29 L573.76,91.50 L574.44,91.70 L575.12,91.90 L575.80,92.10 L576.48,92.29 L577.15,92.48 L577.83,92.66 L578.51,92.85 L579.19,93.03 L579.87,93.20 L580.54,93.38 L581.22,93.55 L581.90,93.72 L582.58,93.88 L583.26,94.05 L583.93,94.21 L584.61,94.36 L585.29,94.52 L585.97,94.67 L586.65,94.82 L587.33,94.97 L588.00,95.11 L588.68,95.25 L589.36,95.39 L590.04,95.53 L590.72,95.67 L591.39,95.81 L592.07,95.94 L592.75,96.07 L593.43,96.20 L594.11,96.33 L594.78,96.45 L595.46,96.58 L596.14,96.70 L596.82,96.82 L597.50,96.94 L598.18,97.06 L598.85,97.18 L599.53,97.29 L600.21,97.41 L600.89,97.52 L601.57,97.63 L602.24,97.74 L602.92,97.85 L603.60,97.96 L604.28,98.06 L604.96,98.16 L605.63,98.27 L606.31,98.37 L606.99,98.46 L607.67,98.56 L608.35,98.65 L609.02,98.75 L609.70,98.84 L610.38,98.93 L611.06,99.01 L611.74,99.10 L612.42,99.18 L613.09,99.26 L613.77,99.33 L614.45,99.40 L615.13,99.47 L615.81,99.54 L616.48,99.61 L617.16,99.67 L617.84,99.73 L618.52,99.78 L619.20,99.83 L619.88,99.88 L620.55,99.93 L621.23,99.97 L621.91,100.01 L622.59,100.05 L623.27,100.09 L623.94,100.13 L624.62,100.16 L625.30,100.20 L625.98,100.23 L626.66,100.27 L627.33,100.30 L628.01,100.34 L628.69,100.37 L629.37,100.41 L630.05,100.44 L630.73,100.48 L631.40,100.52 L632.08,100.56 L632.76,100.60 L633.44,100.64 L634.12,100.68 L634.79,100.72 L635.47,100.77 L636.15,100.81" stroke="#000"/>
<path d="M92.60,51.60 L93.12,51.67 L93.65,51.75 L94.16,51.82 L94.67,51.88 L95.18,51.95 L95.68,52.02 L96.19,52.09 L96.70,52.16 L97.21,52.23 L97.72,52.30 L98.23,52.37 L98.74,52.44 L99.24,52.51 L99.75,52.59 L100.26,52.66 L100.77,52.73 L101.28,52.80 L101.79,52.87 L102.30,52.94 L102.80,53.01 L103.31,53.08 L103.82,53.15 L104.33,53.22 L104.84,53.29 L105.35,53.36 L105.86,53.43 L106.36,53.50 L106.87,53.57 L107.38,53.64 L107.72,53.69 M115.18,54.71 L115.69,54.79 L116.20,54.86 L116.71,54.93 L116.88,54.95 M125.35,56.21 L125.86,56.28 L126.37,56.36 L126.88,56.44 L127.39,56.52 L127.90,56.60 L128.40,56.67 L128.91,56.75 L129.42,56.83 L129.93,56.90 L130.44,56.98 L130.95,57.06 L131.46,57.13 L131.96,57.20 L132.47,57.28 L132.98,57.35 L133.49,57.42 L134.00,57.49 L134.51,57.56 L135.02,57.63 L135.52,57.70 L136.03,57.77 L136.54,57.83 M144.34,58.80 L144.85,58.87 L145.36,58.93 L145.87,59.00 L146.04,59.02 M154.34,60.29 L154.85,60.37 L155.36,60.46 L155.87,60.55 L156.38,60.64 L156.89,60.73 L157.39,60.82 L157.90,60.91 L158.41,61.01 L158.92,61.10 L159.43,61.20 L159.94,61.30 L160.45,61.40 L160.95,61.50 L161.46,61.60 L161.97,61.71 L162.48,61.81 L162.99,61.92 L163.50,62.03 L164.01,62.14 L164.51,62.25 L165.02,62.37 L165.19,62.40 M172.82,64.25 L173.33,64.37 L173.84,64.49 L174.35,64.61 L174.69,64.69 M183.50,66.51 L184.01,66.60 L184.52,66.69 L185.03,66.78 L185.54,66.87 L186.04,66.96 L186.55,67.05 L187.06,67.14 L187.57,67.23 L188.08,67.32 L188.59,67.40 L189.10,67.49 L189.60,67.58 L190.11,67.67 L190.62,67.75 L191.13,67.84 L191.64,67.93 L192.15,68.01 L192.66,68.10 L193.16,68.19 L193.67,68.28 L194.18,68.37 L194.69,68.45 L195.20,68.54 L195.54,68.60 M203.85,70.11 L204.35,70.21 L204.86,70.31 L205.37,70.40 L205.71,70.47 M213.34,71.98 L213.85,72.08 L214.36,72.19 L214.86,72.29 L215.37,72.39 L215.88,72.50 L216.39,72.60 L216.90,72.71 L217.41,72.81 L217.92,72.92 L218.43,73.02 L218.93,73.12 L219.44,73.23 L219.95,73.33 L220.46,73.44 L220.97,73.54 L221.48,73.64 L221.99,73.75 L222.49,73.85 L223.00,73.95 L223.51,74.06 M230.46,75.46 L230.97,75.56 L231.48,75.66 L231.99,75.76 L232.33,75.83 M240.80,77.62 L241.31,77.74 L241.82,77.86 L242.33,77.97 L242.84,78.09 L243.35,78.22 L243.85,78.34 L244.36,78.46 L244.87,78.59 L245.38,78.72 L245.89,78.85 L246.40,78.98 L246.91,79.11 L247.41,79.25 L247.92,79.38 L248.43,79.52 L248.94,79.66 L249.45,79.79 L249.96,79.93 L250.47,80.07 L250.98,80.21 L251.48,80.34 L251.99,80.48 L252.33,80.57 M260.13,82.43 L260.64,82.54 L261.15,82.64 L261.66,82.74 L261.83,82.78 M267.93,83.85 L268.44,83.93 L268.95,84.01 L269.40,84.22 L269.74,84.69 L270.13,85.01 L270.64,85.02 L271.15,85.03 L271.66,85.03 L272.17,85.04 L272.68,85.05 L273.18,85.06 L273.69,85.06 L274.20,85.07 L274.71,85.08 L275.22,85.09 L275.73,85.09 L276.24,85.10 L276.74,85.11 L277.25,85.12 L277.76,85.12 L278.27,85.13 L278.78,85.14 L279.29,85.15 L279.80,85.15 L280.30,85.16 L280.81,85.17 L281.32,85.18 L281.83,85.18 L282.34,85.19 L282.85,85.20 L283.36,85.39 L283.86,85.59 L284.37,85.80 L284.88,86.01 L285.39,86.22 L285.90,86.43 L286.41,86.63 L286.92,86.84 L287.42,87.05 L287.93,87.26 L288.44,87.46 L288.95,87.67 L289.46,87.88 L289.97,88.09 L290.48,88.30 L290.98,88.50 L291.49,88.71 L292.00,88.92 L292.51,89.13 L293.02,89.34 L293.53,89.54 L294.04,89.72 L294.51,89.66 L294.78,89.34 L295.05,89.02 L295.56,89.14 L296.07,89.25 L296.58,89.37 L296.92,89.45 M302.51,90.67 L303.02,90.78 L303.53,90.89 L304.04,90.99 L304.21,91.03 M313.02,92.79 L313.53,92.89 L314.04,92.99 L314.55,93.08 L315.06,93.18 L315.57,93.28 L316.08,93.37 L316.58,93.47 L317.09,93.56 L317.60,93.65 L318.11,93.74 L318.62,93.84 L319.13,93.93 L319.64,94.02 L320.14,94.10 L320.65,94.19 L321.16,94.28 L321.67,94.37 L322.18,94.45 L322.69,94.54 L323.20,94.63 L323.70,94.71 L324.21,94.80 L324.72,94.88 L325.06,94.94 M333.37,96.49 L333.88,96.60 L334.38,96.71 L334.89,96.83 L335.23,96.90 M343.03,98.80 L343.54,98.93 L344.05,99.06 L344.56,99.19 L345.06,99.31 L345.57,99.44 L346.08,99.56 L346.59,99.69 L347.10,99.81 L347.61,99.94 L348.12,100.06 L348.63,100.18 L349.13,100.30 L349.64,100.42 L350.15,100.54 L350.66,100.66 L351.17,100.77 L351.68,100.89 L352.19,101.00 L352.69,101.12 L353.20,101.23 L353.37,101.27 M360.66,102.86 L361.17,102.97 L361.68,103.09 L362.19,103.20 L362.36,103.24 M370.16,105.05 L370.66,105.17 L371.17,105.29 L371.68,105.41 L372.19,105.54 L372.70,105.66 L373.21,105.79 L373.72,105.91 L374.22,106.04 L374.73,106.16 L375.24,106.29 L375.75,106.42 L376.26,106.54 L376.77,106.67 L377.28,106.80 L377.78,106.93 L378.29,107.06 L378.80,107.19 L379.31,107.32 L379.82,107.45 L380.33,107.58 L380.67,107.67 M387.79,109.65 L388.30,109.80 L388.80,109.95 L389.31,110.10 L389.65,110.21 M398.64,113.16 L399.15,113.33 L399.65,113.51 L400.16,113.68 L400.67,113.86 L401.18,114.03 L401.69,114.21 L402.20,114.38 L402.71,114.56 L403.21,114.73 L403.72,114.91 L404.23,115.08 L404.74,115.26 L405.25,115.43 L405.76,115.61 L406.27,115.78 L406.77,115.96 L407.28,116.13 L407.79,116.31 L408.30,116.48 L408.81,116.66 L409.32,116.84 L409.83,117.01 L410.33,117.19 L410.67,117.31 M418.81,120.35 L419.32,120.56 L419.83,120.76 L420.34,120.96 L420.68,121.10 M427.97,124.10 L428.47,124.32 L428.98,124.53 L429.49,124.74 L430.00,124.96 L430.51,125.17 L431.02,125.39 L431.53,125.61 L432.03,125.83 L432.54,126.05 L433.05,126.27 L433.56,126.49 L434.07,126.71 L434.58,126.94 L435.09,127.16 L435.59,127.39 L436.10,127.62 L436.61,127.85 L437.12,128.09 L437.63,128.32 M444.24,131.65 L444.75,131.93 L445.26,132.21 L445.77,132.50 M453.33,137.42 L453.73,137.72 L454.14,138.02 L454.55,138.33 L454.96,138.64 L455.36,138.96 L455.77,139.28 L456.18,139.61 L456.58,139.94 L456.99,140.28 L457.40,140.62 L457.80,140.96 L458.21,141.31 L458.62,141.67 L459.02,142.03 L459.43,142.39 L459.84,142.76 L460.24,143.14 L460.65,143.52 L461.06,143.91 L461.46,144.30 L461.87,144.70 L462.28,145.10 L462.69,145.51 L462.82,145.65 M468.65,152.27 L468.99,152.71 L469.33,153.15 L469.67,153.60 L469.90,153.90 M474.76,161.31 L474.98,161.70 L475.21,162.10 L475.43,162.50 L475.63,162.85 L475.82,163.20 L476.02,163.56 L476.21,163.91 L476.40,164.28 L476.60,164.65 L476.79,165.01 L476.98,165.40 L477.18,165.78 L477.37,166.16 L477.57,166.56 L477.76,166.96 L477.95,167.36 L478.15,167.76 L478.34,168.18 L478.53,168.60 L478.73,169.02 L478.91,169.42 L479.08,169.80 L479.25,170.18 L479.42,170.56 L479.59,170.95 L479.76,171.35 L479.93,171.75 L480.10,172.14 L480.18,172.34 M483.27,180.56 L483.42,181.00 L483.57,181.44 L483.75,181.99 L483.94,182.56 M486.73,192.15 L486.85,192.63 L486.98,193.11 L487.10,193.59 L487.22,194.08 L487.35,194.57 L487.47,195.07 L487.59,195.57 L487.72,196.08 L487.84,196.59 L487.96,197.11 L488.09,197.64 L488.21,198.17 L488.33,198.70 L488.46,199.24 L488.58,199.79 L488.70,200.34 L488.83,200.90 L488.95,201.47 L489.07,202.04 L489.20,202.62 L489.32,203.20 L489.40,203.59 L489.49,203.99 L489.57,204.39 L489.65,204.79 L489.73,205.20 L489.77,205.40 M491.54,214.94 L491.62,215.43 L491.70,215.92 L491.79,216.41 L491.87,216.91 L491.91,217.16 M493.49,227.65 L493.55,228.10 L493.62,228.55 L493.68,229.00 L493.74,229.45 L493.80,229.91 L493.86,230.37 L493.92,230.84 L493.99,231.31 L494.05,231.78 L494.11,232.25 L494.17,232.73 L494.23,233.21 L494.29,233.70 L494.36,234.19 L494.42,234.68 L494.48,235.17 L494.54,235.67 L494.60,236.17 L494.66,236.68 L494.73,237.19 L494.79,237.70 L494.85,238.22 L494.91,238.74 L494.97,239.27 L495.03,239.80 L495.10,240.33 L495.16,240.87 L495.22,241.41 L495.28,241.95 L495.30,242.13 M496.35,252.09 L496.39,252.51 L496.43,252.93 L496.47,253.35 L496.51,253.78 L496.55,254.20 L496.60,254.63 M497.56,265.44 L497.60,265.93 L497.64,266.43 L497.69,266.92 L497.73,267.43 L497.77,267.93 L497.81,268.44 L497.85,268.95 L497.89,269.46 L497.93,269.97 L497.97,270.49 L498.01,271.01 L498.06,271.54 L498.10,272.07 L498.14,272.60 L498.17,273.00 L498.20,273.40 L498.23,273.80 L498.26,274.21 L498.29,274.62 L498.32,275.03 L498.35,275.44 L498.38,275.85 L498.41,276.27 L498.45,276.68 L498.48,277.10 L498.51,277.52 L498.54,277.94 L498.57,278.37 L498.60,278.80 L498.63,279.22 L498.66,279.65 L498.68,279.94 M499.35,289.80 L499.38,290.28 L499.41,290.76 L499.44,291.24 L499.47,291.73 L499.50,292.22 M500.14,302.85 L500.17,303.40 L500.20,303.94 L500.23,304.49 L500.26,305.04 L500.30,305.59 L500.33,306.14 L500.36,306.70 L500.39,307.26 L500.42,307.82 L500.45,308.39 L500.48,308.96 L500.51,309.53 L500.54,310.10 L500.57,310.68 L500.60,311.26 L500.63,311.84 L500.67,312.43 L500.70,313.01 L500.73,313.60 L500.76,314.20 L500.79,314.79 L500.82,315.39 L500.84,315.79 L500.86,316.20 L500.88,316.60 L500.90,317.01 L500.91,317.21 M501.39,327.10 L501.42,327.54 L501.44,327.98 L501.46,328.42 L501.48,328.86 L501.50,329.30 M501.97,339.82 L501.99,340.29 L502.01,340.77 L502.03,341.24 L502.05,341.72 L502.07,342.19 L502.09,342.67 L502.11,343.15 L502.13,343.63 L502.15,344.11 L502.18,344.59 L502.20,345.08 L502.22,345.56 L502.24,346.05 L502.26,346.53 L502.28,347.02 L502.30,347.51 L502.32,348.00 L502.34,348.49 L502.36,348.98 L502.38,349.47 L502.40,349.97 L502.42,350.46 L502.44,350.96 L502.46,351.45 L502.48,351.95 L502.50,352.45 L502.52,352.95 L502.54,353.36 L502.56,353.86 L502.57,354.03 M502.96,363.65 L502.98,364.16 L503.00,364.67 L503.02,365.18 L503.04,365.69 L503.06,366.03 M503.46,375.97 L503.48,376.47 L503.50,376.96 L503.52,377.46 L503.54,377.95 L503.56,378.44 L503.58,378.93 L503.60,379.42 L503.62,379.90 L503.64,380.38 L503.67,380.87 L503.69,381.35 L503.71,381.82 L503.73,382.30 L503.75,382.77 L503.77,383.24 L503.79,383.71 L503.81,384.17 L503.83,384.64 L503.85,385.10 L503.87,385.55 L503.89,386.01 L503.91,386.46 L503.93,386.90 L503.95,387.35 L503.97,387.79 L503.99,388.22 L504.01,388.65 L504.04,389.08 L504.06,389.51 M504.60,398.87 L504.64,399.39 L504.69,400.00 L504.73,400.45 L504.78,400.87 L504.84,401.43 M506.15,392.30 L506.17,391.85 L506.19,391.40 L506.21,390.93 L506.23,390.46 L506.25,389.98 L506.28,389.50 L506.30,389.01 L506.32,388.51 L506.34,388.00 L506.36,387.49 L506.38,386.97 L506.40,386.45 L506.42,385.92 L506.44,385.38 L506.46,384.84 L506.48,384.29 L506.50,383.74 L506.52,383.18 L506.54,382.61 L506.56,382.04 L506.58,381.47 L506.60,380.89 L506.62,380.30 L506.65,379.71 L506.67,379.12 L506.69,378.52 L506.70,378.12 L506.71,377.72 L506.73,377.31 L506.74,376.90 L506.75,376.50 L506.77,376.09 L506.78,375.67 L506.79,375.47 M507.16,363.81 L507.17,363.36 L507.19,362.91 L507.20,362.46 L507.21,362.01 L507.23,361.56 L507.23,361.34 M507.56,350.37 L507.58,349.91 L507.59,349.45 L507.60,348.99 L507.62,348.53 L507.63,348.07 L507.65,347.61 L507.66,347.14 L507.67,346.68 L507.69,346.22 L507.70,345.76 L507.71,345.30 L507.73,344.83 L507.74,344.37 L507.76,343.91 L507.77,343.45 L507.78,342.99 L507.80,342.52 L507.81,342.06 L507.82,341.60 L507.84,341.14 L507.85,340.68 L507.86,340.22 L507.88,339.75 L507.89,339.29 L507.91,338.83 L507.92,338.37 L507.93,337.91 L507.95,337.45 L507.96,336.99 L507.97,336.53 L507.99,336.07 L507.99,335.84 M508.30,325.80 L508.31,325.35 L508.32,324.89 L508.34,324.44 L508.35,323.99 L508.36,323.54 M508.69,313.09 L508.70,312.65 L508.71,312.21 L508.73,311.77 L508.74,311.34 L508.76,310.90 L508.77,310.46 L508.78,310.03 L508.80,309.59 L508.81,309.16 L508.82,308.73 L508.84,308.29 L508.85,307.86 L508.86,307.43 L508.88,307.00 L508.89,306.57 L508.91,306.14 L508.92,305.71 L508.93,305.28 L508.95,304.85 L508.96,304.42 L508.97,304.00 L508.99,303.57 L509.00,303.14 L509.02,302.72 L509.03,302.29 L509.04,301.87 L509.06,301.45 L509.07,301.02 L509.08,300.60 L509.10,300.18 L509.11,299.76 L509.13,299.34 L509.14,298.92 M509.46,289.23 L509.47,288.82 L509.49,288.42 L509.50,288.01 L509.52,287.61 L509.53,287.21 L509.54,286.81 M509.91,276.20 L509.93,275.62 L509.95,275.05 L509.97,274.48 L510.00,273.90 L510.02,273.33 L510.04,272.77 L510.06,272.20 L510.08,271.63 L510.10,271.07 L510.12,270.50 L510.14,269.94 L510.16,269.38 L510.18,268.82 L510.20,268.26 L510.22,267.71 L510.24,267.15 L510.26,266.60 L510.28,266.04 L510.30,265.49 L510.32,264.94 L510.34,264.39 L510.36,263.85 L510.39,263.30 L510.41,262.76 L510.43,262.21 L510.45,261.67 M510.83,251.80 L510.85,251.28 L510.87,250.76 L510.89,250.25 L510.91,249.74 L510.93,249.40 M511.36,238.85 L511.38,238.37 L511.40,237.88 L511.42,237.40 L511.44,236.92 L511.46,236.44 L511.48,235.96 L511.51,235.48 L511.53,235.01 L511.55,234.53 L511.57,234.06 L511.59,233.58 L511.61,233.11 L511.63,232.64 L511.65,232.17 L511.67,231.70 L511.69,231.23 L511.71,230.77 L511.73,230.30 L511.75,229.84 L511.77,229.38 L511.79,228.91 L511.81,228.45 L511.83,227.99 L511.85,227.53 L511.88,227.08 L511.90,226.62 L511.92,226.17 L511.94,225.71 L511.96,225.26 L511.98,224.81 L511.99,224.58 M512.45,214.70 L512.47,214.28 L512.49,213.85 L512.51,213.43 L512.53,213.00 L512.55,212.58 L512.56,212.37 M513.10,201.73 L513.13,201.14 L513.16,200.55 L513.19,199.96 L513.22,199.37 L513.25,198.79 L513.28,198.20 L513.31,197.62 L513.34,197.04 L513.38,196.46 L513.41,195.89 L513.44,195.32 L513.47,194.74 L513.50,194.18 L513.53,193.61 L513.56,193.04 L513.59,192.48 L513.62,191.92 L513.65,191.36 L513.68,190.80 L513.71,190.25 L513.75,189.69 L513.78,189.14 L513.81,188.59 L513.84,188.05 L513.87,187.50 L513.88,187.32 M514.46,177.33 L514.50,176.82 L514.53,176.31 L514.56,175.81 L514.59,175.31 L514.61,174.97 M515.30,164.24 L515.33,163.78 L515.36,163.32 L515.39,162.86 L515.42,162.40 L515.45,161.95 L515.48,161.50 L515.51,161.05 L515.54,160.60 L515.57,160.15 L515.61,159.70 L515.64,159.26 L515.67,158.82 L515.70,158.38 L515.73,157.94 L515.76,157.50 L515.79,157.06 L515.82,156.63 L515.85,156.20 L515.88,155.76 L515.91,155.33 L515.94,154.91 L515.98,154.48 L516.01,154.05 L516.04,153.63 L516.07,153.21 L516.10,152.79 L516.13,152.37 L516.16,151.95 L516.19,151.54 L516.22,151.12 L516.25,150.71 L516.28,150.30 L516.31,149.89 L516.32,149.75 M517.11,139.89 L517.15,139.40 L517.19,138.91 L517.23,138.42 L517.27,137.94 L517.29,137.69 M518.26,127.03 L518.30,126.61 L518.34,126.19 L518.38,125.77 L518.42,125.35 L518.46,124.93 L518.50,124.52 L518.54,124.11 L518.59,123.70 L518.63,123.30 L518.67,122.89 L518.71,122.49 L518.75,122.09 L518.81,121.50 L518.87,120.91 L518.93,120.33 L519.00,119.75 L519.06,119.17 L519.12,118.60 L519.18,118.04 L519.24,117.48 L519.30,116.93 L519.37,116.38 L519.43,115.83 L519.49,115.29 L519.55,114.76 L519.61,114.23 L519.67,113.70 L519.74,113.18 L519.80,112.66 L519.82,112.49 M521.09,102.86 L521.15,102.44 L521.22,102.03 L521.28,101.62 L521.34,101.21 L521.40,100.81 L521.46,100.41 M523.33,90.08 L523.46,89.52 L523.58,88.96 L523.70,88.42 L523.83,87.89 L523.95,87.37 L524.07,86.86 L524.20,86.37 L524.32,85.88 L524.44,85.41 L524.57,84.95 L524.69,84.50 L524.81,84.06 L524.94,83.64 L525.06,83.22 L525.18,82.81 L525.31,82.42 L525.43,82.03 L525.61,81.47 L525.80,80.93 L525.98,80.41 L526.17,79.91 L526.35,79.43 L526.54,78.97 L526.72,78.53 L526.91,78.11 L527.13,77.62 L527.38,77.11 L527.46,76.96 M533.55,71.92 L534.04,71.86 L534.53,71.83 L535.03,71.84 L535.19,71.85 M543.16,74.44 L543.60,74.64 L544.03,74.84 L544.46,75.05 L544.89,75.25 L545.32,75.46 L545.80,75.69 L546.30,75.93 L546.81,76.17 L547.32,76.42 L547.82,76.66 L548.33,76.91 L548.84,77.15 L549.35,77.40 L549.86,77.65 L550.37,77.89 L550.88,78.14 L551.38,78.39 L551.89,78.64 L552.40,78.88 L552.91,79.13 L553.42,79.38 L553.59,79.46 M560.71,82.72 L561.22,82.96 L561.73,83.22 L562.23,83.48 L562.37,83.57 M569.69,87.95 L570.20,88.01 L570.71,88.06 L571.22,88.10 L571.73,88.14 L572.24,88.18 L572.75,88.22 L573.25,88.25 L573.76,88.28 L574.27,88.32 L574.78,88.35 L575.29,88.37 L575.80,88.39 L576.31,88.41 L576.81,88.43 L577.32,88.45 L577.83,88.48 L578.34,88.51 L578.85,88.54 L579.36,88.58 L579.87,88.64 L580.37,88.77 L580.54,88.82 M587.19,93.57 L587.66,93.83 L588.17,94.08 L588.68,94.31 L588.85,94.39 M596.82,96.90 L597.33,96.88 L597.84,96.84 L598.34,96.79 L598.85,96.72 L599.36,96.65 L599.87,96.56 L600.38,96.48 L600.89,96.39 L601.40,96.30 L601.90,96.21 L602.41,96.12 L602.92,96.02 L603.43,95.89 L603.94,95.76 L604.45,95.62 L604.96,95.49 L605.46,95.37 L605.97,95.26 L606.48,95.18 L606.99,95.12 L607.50,95.11 L607.84,95.15 M614.31,100.51 L614.79,100.78 L615.30,101.03 L615.81,101.24 L615.98,101.31 M623.94,103.40 L624.45,103.35 L624.96,103.25 L625.47,103.12 L625.98,102.96 L626.49,102.76 L627.00,102.54 L627.50,102.32 L628.01,102.09 L628.52,101.87 L629.03,101.65 L629.54,101.46 L630.05,101.28 L630.56,101.11 L631.06,100.94 L631.57,100.77 L632.08,100.59 L632.59,100.42 L633.10,100.25 L633.61,100.08 L634.12,99.91 L634.45,99.79" stroke="#ff0000"/>
</g>
<g font-size="28.5" fill="#000"><text transform="translate(147.90,480.5) scale(1,1.05)" text-anchor="middle">0.4</text><text transform="translate(256.40,480.5) scale(1,1.05)" text-anchor="middle">0.8</text><text transform="translate(364.90,480.5) scale(1,1.05)" text-anchor="middle">1.2</text><text transform="translate(473.40,480.5) scale(1,1.05)" text-anchor="middle">1.6</text><text transform="translate(581.90,480.5) scale(1,1.05)" text-anchor="middle">2.0</text><text transform="translate(83.9,56.35) scale(1,1.05)" text-anchor="end">0</text><text transform="translate(83.9,216.95) scale(1,1.05)" text-anchor="end">-10</text><text transform="translate(83.9,377.55) scale(1,1.05)" text-anchor="end">-20</text></g>
<text x="245.9" y="512.4" font-size="28.8">Frequency (GHz)</text>
<text transform="translate(35.3,433.1) rotate(-90)" font-size="28.75">Transmission Coefficient (dB)</text>
<g stroke-width="3.6">
<line x1="121.6" y1="226.2" x2="172.7" y2="226.2" stroke="#000"/>
<line x1="121.6" y1="260" x2="172.7" y2="260" stroke="#0000ff" stroke-dasharray="13.3 17"/>
<line x1="121.6" y1="293.4" x2="173.1" y2="293.4" stroke="#ff0000" stroke-dasharray="16 9.8 2.7 9.3"/>
</g>
<g font-size="26.82" fill="#000">
<text x="180.3" y="233.6">Simulated</text>
<text x="180.4" y="267.3">DGS-IDC-SRR</text>
<text x="180.4" y="301">DGS-IDC-DSRR</text>
</g>
<text x="407.9" y="343.4" font-size="22.5" fill="#0000ff">O=50</text><path d="M416.0,338.0 L424.2,343.4" stroke="#0000ff" stroke-width="3.1"/>
<text x="471" y="433.3" font-size="22.6" fill="#ff0000">O=97.6</text><path d="M479.1,428.2 L487.3,433.6" stroke="#ff0000" stroke-width="3.1"/>
</svg>
</body></html>
